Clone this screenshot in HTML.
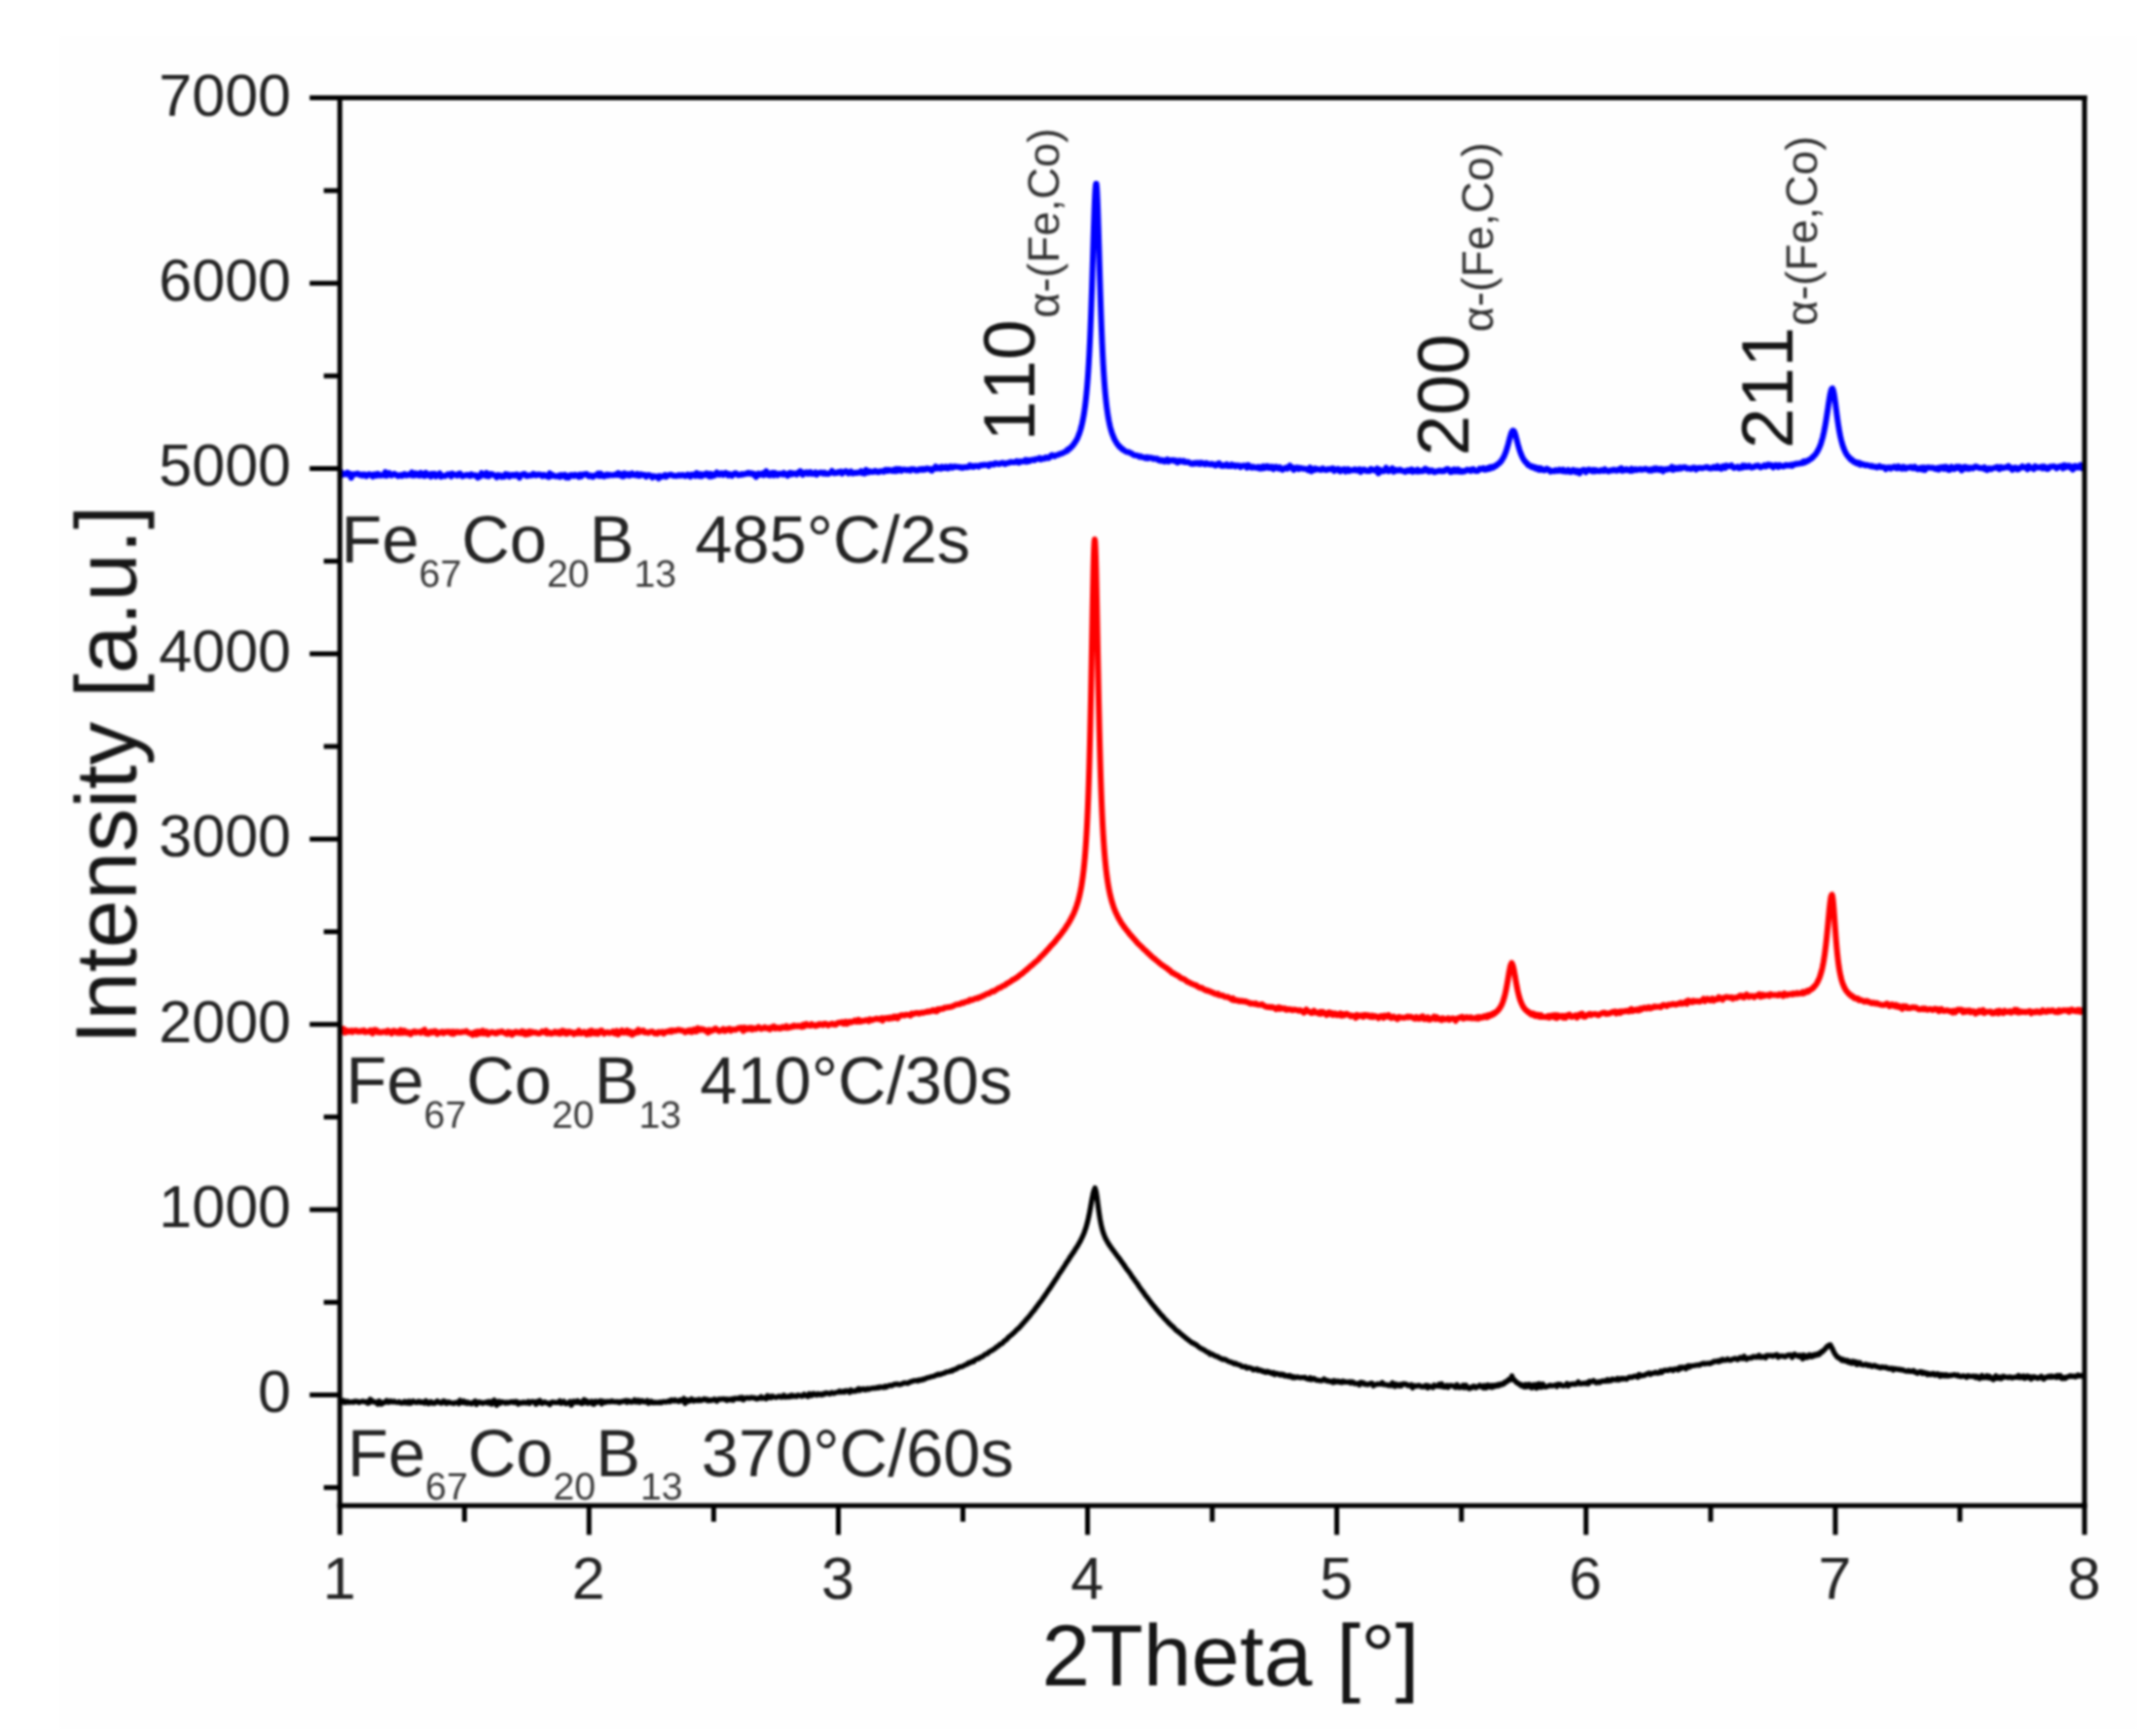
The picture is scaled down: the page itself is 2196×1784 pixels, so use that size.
<!DOCTYPE html>
<html lang="en">
<head>
<meta charset="utf-8">
<title>XRD patterns Fe67Co20B13</title>
<style>
html,body{margin:0;padding:0;background:#fff;}
body{width:2196px;height:1784px;overflow:hidden;}
svg{display:block;}
</style>
</head>
<body>
<svg width="2196" height="1784" viewBox="0 0 2196 1784">
<defs><filter id="soft" x="0" y="0" width="100%" height="100%" filterUnits="userSpaceOnUse" color-interpolation-filters="sRGB"><feGaussianBlur stdDeviation="1.15"/></filter></defs>
<rect x="0" y="0" width="2196" height="1784" fill="#ffffff"/>
<g filter="url(#soft)">
<rect x="61" y="37" width="2135" height="1740" fill="#fefefe"/>
<clipPath id="pc"><rect x="349.2" y="100.6" width="1792.8999999999999" height="1446.7"/></clipPath>
<g clip-path="url(#pc)" fill="none" stroke-linejoin="round" stroke-linecap="round">
<path d="M349.20 1440.78 L350.50 1441.27 L351.80 1440.80 L353.10 1439.19 L354.40 1441.40 L355.70 1440.96 L357.00 1439.99 L358.30 1441.12 L359.60 1440.92 L360.90 1440.86 L362.20 1440.61 L363.50 1441.14 L364.80 1439.88 L366.10 1440.46 L367.40 1440.16 L368.70 1441.25 L370.00 1440.70 L371.30 1440.38 L372.60 1439.91 L373.90 1440.45 L375.20 1440.72 L376.50 1440.45 L377.80 1442.04 L379.10 1441.76 L380.40 1438.05 L381.70 1438.88 L383.00 1440.62 L384.30 1440.38 L385.60 1441.03 L386.90 1441.05 L388.20 1442.97 L389.50 1439.73 L390.80 1440.48 L392.10 1442.93 L393.40 1441.54 L394.70 1441.56 L396.00 1440.39 L397.30 1439.26 L398.60 1441.10 L399.90 1441.05 L401.20 1439.71 L402.50 1440.27 L403.80 1440.90 L405.10 1440.03 L406.40 1440.89 L407.70 1441.10 L409.00 1441.05 L410.30 1440.51 L411.60 1441.63 L412.90 1441.95 L414.20 1441.38 L415.50 1440.23 L416.80 1441.81 L418.10 1440.57 L419.40 1441.98 L420.70 1440.01 L422.00 1442.04 L423.30 1441.10 L424.60 1439.86 L425.90 1440.82 L427.20 1441.20 L428.50 1441.43 L429.80 1440.16 L431.10 1440.04 L432.40 1441.38 L433.70 1440.71 L435.00 1441.43 L436.30 1441.98 L437.60 1439.53 L438.90 1441.48 L440.20 1442.48 L441.50 1440.93 L442.80 1440.41 L444.10 1442.02 L445.40 1441.51 L446.70 1442.18 L448.00 1440.91 L449.30 1439.76 L450.60 1441.17 L451.90 1440.83 L453.20 1442.09 L454.50 1441.50 L455.80 1439.63 L457.10 1440.08 L458.40 1442.23 L459.70 1442.02 L461.00 1440.67 L462.30 1441.33 L463.60 1441.80 L464.90 1441.83 L466.20 1442.25 L467.50 1441.62 L468.80 1441.26 L470.10 1441.10 L471.40 1442.46 L472.70 1439.05 L474.00 1441.23 L475.30 1441.42 L476.60 1439.91 L477.90 1441.73 L479.20 1440.72 L480.50 1442.29 L481.80 1441.27 L483.10 1442.10 L484.40 1442.67 L485.70 1441.81 L487.00 1440.50 L488.30 1439.84 L489.60 1443.24 L490.90 1441.31 L492.20 1440.71 L493.50 1441.58 L494.80 1441.23 L496.10 1442.32 L497.40 1441.47 L498.70 1441.45 L500.00 1440.69 L501.30 1441.93 L502.60 1440.36 L503.90 1442.14 L505.20 1443.04 L506.50 1439.85 L507.80 1438.86 L509.10 1442.09 L510.40 1444.12 L511.70 1440.40 L513.00 1440.13 L514.30 1442.06 L515.60 1440.56 L516.90 1440.91 L518.20 1441.08 L519.50 1442.00 L520.80 1441.02 L522.10 1441.73 L523.40 1441.26 L524.70 1440.56 L526.00 1441.11 L527.30 1440.45 L528.60 1441.44 L529.90 1440.26 L531.20 1440.29 L532.50 1442.95 L533.80 1441.37 L535.10 1441.37 L536.40 1441.96 L537.70 1440.98 L539.00 1441.18 L540.30 1441.86 L541.60 1441.71 L542.90 1440.21 L544.20 1442.27 L545.50 1440.79 L546.80 1440.31 L548.10 1440.46 L549.40 1440.99 L550.70 1443.07 L552.00 1440.17 L553.30 1441.54 L554.60 1439.17 L555.90 1441.37 L557.20 1442.29 L558.50 1441.11 L559.80 1440.70 L561.10 1441.58 L562.40 1442.06 L563.70 1442.01 L565.00 1443.35 L566.30 1441.54 L567.60 1440.71 L568.90 1441.18 L570.20 1441.23 L571.50 1441.41 L572.80 1441.26 L574.10 1441.46 L575.40 1439.57 L576.70 1442.11 L578.00 1440.67 L579.30 1440.05 L580.60 1441.89 L581.90 1442.57 L583.20 1441.72 L584.50 1441.38 L585.80 1440.26 L587.10 1444.10 L588.40 1442.08 L589.70 1440.02 L591.00 1440.38 L592.30 1441.24 L593.60 1439.58 L594.90 1441.30 L596.20 1440.66 L597.50 1442.35 L598.80 1442.07 L600.10 1438.36 L601.40 1441.12 L602.70 1439.44 L604.00 1442.17 L605.30 1441.21 L606.60 1441.58 L607.90 1439.95 L609.20 1442.83 L610.50 1443.01 L611.80 1439.91 L613.10 1441.34 L614.40 1440.28 L615.70 1440.91 L617.00 1439.66 L618.30 1442.76 L619.60 1439.93 L620.90 1440.58 L622.20 1441.36 L623.50 1440.21 L624.80 1440.60 L626.10 1440.26 L627.40 1440.67 L628.70 1439.63 L630.00 1440.34 L631.30 1440.55 L632.60 1440.40 L633.90 1440.77 L635.20 1440.41 L636.50 1441.42 L637.80 1440.35 L639.10 1440.51 L640.40 1439.97 L641.70 1440.09 L643.00 1439.35 L644.30 1441.08 L645.60 1439.43 L646.90 1439.80 L648.20 1440.86 L649.50 1440.88 L650.80 1440.08 L652.10 1438.47 L653.40 1440.85 L654.70 1440.68 L656.00 1438.97 L657.30 1441.20 L658.60 1439.69 L659.90 1439.32 L661.20 1440.53 L662.50 1440.33 L663.80 1440.72 L665.10 1439.41 L666.40 1442.07 L667.70 1440.44 L669.00 1439.92 L670.30 1441.57 L671.60 1440.98 L672.90 1441.61 L674.20 1441.09 L675.50 1441.36 L676.80 1441.60 L678.10 1440.74 L679.40 1441.65 L680.70 1440.73 L682.00 1440.32 L683.30 1440.72 L684.60 1440.76 L685.90 1440.17 L687.20 1439.58 L688.50 1440.47 L689.80 1438.59 L691.10 1439.00 L692.40 1439.77 L693.70 1438.51 L695.00 1439.65 L696.30 1439.53 L697.60 1440.36 L698.90 1438.66 L700.20 1438.88 L701.50 1439.74 L702.80 1437.11 L704.10 1442.23 L705.40 1438.68 L706.70 1438.61 L708.00 1440.05 L709.30 1439.18 L710.60 1437.54 L711.90 1439.72 L713.20 1439.90 L714.50 1438.66 L715.80 1438.78 L717.10 1439.44 L718.40 1438.13 L719.70 1439.32 L721.00 1439.06 L722.30 1438.23 L723.60 1437.54 L724.90 1438.56 L726.20 1437.93 L727.50 1439.59 L728.80 1438.77 L730.10 1439.30 L731.40 1438.67 L732.70 1438.75 L734.00 1437.76 L735.30 1439.02 L736.60 1439.98 L737.90 1438.06 L739.20 1437.76 L740.50 1438.10 L741.80 1437.77 L743.10 1437.52 L744.40 1438.22 L745.70 1437.79 L747.00 1439.28 L748.30 1437.96 L749.60 1438.19 L750.90 1438.69 L752.20 1437.54 L753.50 1439.01 L754.80 1437.15 L756.10 1436.94 L757.40 1437.28 L758.70 1437.44 L760.00 1436.27 L761.30 1437.40 L762.60 1435.94 L763.90 1438.53 L765.20 1437.20 L766.50 1436.66 L767.80 1436.37 L769.10 1436.77 L770.40 1436.85 L771.70 1436.08 L773.00 1436.13 L774.30 1436.70 L775.60 1436.35 L776.90 1437.53 L778.20 1437.63 L779.50 1436.62 L780.80 1436.94 L782.10 1435.36 L783.40 1436.95 L784.70 1436.32 L786.00 1436.68 L787.30 1437.54 L788.60 1434.25 L789.90 1436.29 L791.20 1435.10 L792.50 1436.42 L793.80 1434.78 L795.10 1435.38 L796.40 1435.88 L797.70 1436.15 L799.00 1435.63 L800.30 1434.85 L801.60 1434.97 L802.90 1436.06 L804.20 1435.26 L805.50 1433.83 L806.80 1435.78 L808.10 1435.36 L809.40 1435.64 L810.70 1434.60 L812.00 1435.44 L813.30 1433.86 L814.60 1435.06 L815.90 1434.14 L817.20 1434.97 L818.50 1435.14 L819.80 1433.69 L821.10 1434.13 L822.40 1434.11 L823.70 1434.91 L825.00 1434.45 L826.30 1432.87 L827.60 1434.06 L828.90 1434.19 L830.20 1435.14 L831.50 1432.14 L832.80 1432.91 L834.10 1434.23 L835.40 1432.10 L836.70 1432.12 L838.00 1433.30 L839.30 1433.57 L840.60 1432.20 L841.90 1433.00 L843.20 1432.57 L844.50 1433.50 L845.80 1432.26 L847.10 1432.88 L848.40 1431.38 L849.70 1431.79 L851.00 1431.74 L852.30 1432.51 L853.60 1431.99 L854.90 1430.91 L856.20 1431.82 L857.50 1431.75 L858.80 1431.00 L860.10 1430.77 L861.40 1430.69 L862.70 1429.51 L864.00 1430.70 L865.30 1430.60 L866.60 1429.70 L867.90 1430.68 L869.20 1429.09 L870.50 1429.51 L871.80 1429.43 L873.10 1430.95 L874.40 1428.38 L875.70 1429.69 L877.00 1429.80 L878.30 1429.27 L879.60 1429.65 L880.90 1428.05 L882.20 1427.06 L883.50 1428.90 L884.80 1427.46 L886.10 1427.87 L887.40 1427.16 L888.70 1428.42 L890.00 1428.13 L891.30 1426.96 L892.60 1427.81 L893.90 1427.14 L895.20 1426.80 L896.50 1426.75 L897.80 1426.41 L899.10 1426.72 L900.40 1426.35 L901.70 1425.76 L903.00 1426.39 L904.30 1425.22 L905.60 1425.56 L906.90 1425.44 L908.20 1425.86 L909.50 1424.49 L910.80 1425.59 L912.10 1424.47 L913.40 1424.04 L914.70 1423.55 L916.00 1424.05 L917.30 1423.52 L918.60 1422.65 L919.90 1422.41 L921.20 1422.50 L922.50 1422.20 L923.80 1422.93 L925.10 1422.84 L926.40 1422.32 L927.70 1421.79 L929.00 1421.12 L930.30 1421.12 L931.60 1421.29 L932.90 1421.67 L934.20 1420.77 L935.50 1419.88 L936.80 1419.77 L938.10 1419.23 L939.40 1418.79 L940.70 1418.80 L942.00 1418.70 L943.30 1419.19 L944.60 1418.02 L945.90 1418.34 L947.20 1418.22 L948.50 1417.10 L949.80 1417.49 L951.10 1416.74 L952.40 1415.88 L953.70 1415.86 L955.00 1415.40 L956.30 1414.94 L957.60 1414.60 L958.90 1414.39 L960.20 1414.14 L961.50 1413.20 L962.80 1413.20 L964.10 1412.18 L965.40 1412.53 L966.70 1412.28 L968.00 1411.68 L969.30 1411.32 L970.60 1411.01 L971.90 1410.09 L973.20 1409.82 L974.50 1409.67 L975.80 1409.40 L977.10 1408.71 L978.40 1409.04 L979.70 1407.58 L981.00 1407.49 L982.30 1407.09 L983.60 1406.08 L984.90 1405.33 L986.20 1404.68 L987.50 1404.62 L988.80 1404.39 L990.10 1403.56 L991.40 1402.96 L992.70 1402.21 L994.00 1401.92 L995.30 1400.47 L996.60 1400.61 L997.90 1399.93 L999.20 1398.87 L1000.50 1399.30 L1001.80 1397.58 L1003.10 1397.00 L1004.40 1396.29 L1005.70 1396.25 L1007.00 1394.98 L1008.30 1394.68 L1009.60 1393.92 L1010.90 1393.08 L1012.20 1391.89 L1013.50 1391.29 L1014.80 1391.07 L1016.10 1389.50 L1017.40 1388.79 L1018.70 1388.10 L1020.00 1387.46 L1021.30 1386.44 L1022.60 1385.65 L1023.90 1384.30 L1025.20 1383.81 L1026.50 1382.76 L1027.80 1381.31 L1029.10 1380.98 L1030.40 1380.10 L1031.70 1378.41 L1033.00 1377.51 L1034.30 1376.69 L1035.60 1375.01 L1036.90 1373.77 L1038.20 1372.75 L1039.50 1371.71 L1040.80 1370.50 L1042.10 1369.48 L1043.40 1368.16 L1044.70 1366.61 L1046.00 1365.62 L1047.30 1364.50 L1048.60 1363.02 L1049.90 1361.60 L1051.20 1360.02 L1052.50 1358.73 L1053.80 1356.96 L1055.10 1355.73 L1056.40 1354.08 L1057.70 1352.71 L1059.00 1351.03 L1060.30 1349.20 L1061.60 1347.74 L1062.90 1346.24 L1064.20 1344.23 L1065.50 1342.60 L1066.80 1340.83 L1068.10 1338.98 L1069.40 1337.52 L1070.70 1335.76 L1072.00 1333.86 L1073.30 1331.93 L1074.60 1330.02 L1075.90 1328.17 L1077.20 1326.14 L1078.50 1324.41 L1079.80 1322.49 L1081.10 1320.52 L1082.40 1318.38 L1083.70 1316.48 L1085.00 1314.46 L1086.30 1312.71 L1087.60 1310.52 L1088.90 1308.28 L1090.20 1306.56 L1091.50 1304.74 L1092.80 1302.61 L1094.10 1300.65 L1095.40 1298.56 L1095.50 1298.16 L1095.85 1297.65 L1096.20 1297.19 L1096.55 1296.79 L1096.70 1296.62 L1096.90 1296.36 L1097.25 1295.71 L1097.60 1295.33 L1097.95 1294.65 L1098.00 1294.52 L1098.30 1294.26 L1098.65 1293.51 L1099.00 1292.76 L1099.30 1292.51 L1099.35 1292.58 L1099.70 1291.66 L1100.05 1291.46 L1100.40 1290.94 L1100.60 1290.50 L1100.75 1290.27 L1101.10 1289.86 L1101.45 1289.32 L1101.80 1289.01 L1101.90 1288.75 L1102.15 1288.13 L1102.50 1287.69 L1102.85 1287.34 L1103.20 1286.96 L1103.20 1286.77 L1103.55 1286.22 L1103.90 1285.87 L1104.25 1285.11 L1104.50 1284.68 L1104.60 1284.40 L1104.95 1283.96 L1105.30 1283.73 L1105.65 1282.75 L1105.80 1282.69 L1106.00 1282.20 L1106.35 1281.82 L1106.70 1281.35 L1107.05 1280.65 L1107.10 1280.68 L1107.40 1280.18 L1107.75 1279.57 L1108.10 1279.12 L1108.40 1278.51 L1108.45 1278.30 L1108.80 1277.66 L1109.15 1277.03 L1109.50 1276.55 L1109.70 1276.10 L1109.85 1276.15 L1110.20 1275.40 L1110.55 1274.53 L1110.90 1273.85 L1111.00 1273.85 L1111.25 1273.01 L1111.60 1272.44 L1111.95 1271.84 L1112.30 1270.92 L1112.30 1270.96 L1112.65 1270.20 L1113.00 1269.49 L1113.35 1268.62 L1113.60 1268.03 L1113.70 1267.80 L1114.05 1266.87 L1114.40 1266.02 L1114.75 1264.93 L1114.90 1264.46 L1115.10 1263.87 L1115.45 1262.84 L1115.80 1261.82 L1116.15 1260.78 L1116.20 1260.56 L1116.50 1259.49 L1116.85 1258.22 L1117.20 1256.94 L1117.50 1255.77 L1117.55 1255.57 L1117.90 1254.09 L1118.25 1252.63 L1118.60 1251.12 L1118.80 1250.06 L1118.95 1249.43 L1119.30 1247.64 L1119.65 1245.95 L1120.00 1244.08 L1120.10 1243.49 L1120.35 1242.22 L1120.70 1240.34 L1121.05 1238.31 L1121.40 1236.36 L1121.40 1236.32 L1121.75 1234.27 L1122.10 1232.42 L1122.45 1230.51 L1122.70 1229.18 L1122.80 1228.77 L1123.15 1227.10 L1123.50 1225.58 L1123.85 1224.39 L1124.00 1223.80 L1124.20 1223.35 L1124.55 1222.43 L1124.90 1222.17 L1125.25 1220.80 L1125.30 1222.70 L1125.60 1222.21 L1125.95 1223.13 L1126.30 1224.39 L1126.60 1225.95 L1126.65 1226.29 L1127.00 1228.36 L1127.35 1230.87 L1127.70 1233.55 L1127.90 1235.07 L1128.05 1236.25 L1128.40 1238.92 L1128.75 1241.61 L1129.10 1244.16 L1129.20 1244.86 L1129.45 1246.60 L1129.80 1248.97 L1130.15 1251.17 L1130.50 1253.23 L1130.50 1253.13 L1130.85 1255.10 L1131.20 1256.95 L1131.55 1258.65 L1131.80 1259.74 L1131.90 1260.15 L1132.25 1261.52 L1132.60 1263.09 L1132.95 1264.18 L1133.10 1264.85 L1133.30 1265.51 L1133.65 1266.53 L1134.00 1267.50 L1134.35 1268.52 L1134.40 1268.56 L1134.70 1269.45 L1135.05 1270.30 L1135.40 1271.17 L1135.70 1271.88 L1135.75 1272.06 L1136.10 1272.62 L1136.45 1273.47 L1136.80 1273.98 L1137.00 1274.35 L1137.15 1274.66 L1137.50 1275.26 L1137.85 1276.09 L1138.20 1276.68 L1138.30 1276.89 L1138.55 1277.16 L1138.90 1277.77 L1139.25 1278.22 L1139.60 1278.69 L1139.60 1278.89 L1139.95 1279.40 L1140.30 1279.75 L1140.65 1280.48 L1140.90 1280.55 L1141.00 1280.89 L1141.35 1281.34 L1141.70 1281.85 L1142.05 1282.27 L1142.20 1282.74 L1142.40 1282.97 L1142.75 1283.54 L1143.10 1283.88 L1143.45 1284.17 L1143.50 1284.36 L1143.80 1284.65 L1144.15 1285.35 L1144.50 1285.92 L1144.80 1286.21 L1144.85 1286.15 L1145.20 1286.65 L1145.55 1287.20 L1145.90 1287.44 L1146.10 1287.93 L1146.25 1288.13 L1146.60 1288.50 L1146.95 1288.98 L1147.30 1289.53 L1147.40 1289.53 L1147.65 1289.87 L1148.00 1290.55 L1148.35 1290.95 L1148.70 1291.62 L1148.70 1291.25 L1149.05 1291.62 L1149.40 1292.46 L1149.75 1292.93 L1150.00 1293.04 L1150.10 1293.08 L1150.45 1293.74 L1150.80 1293.99 L1151.15 1294.66 L1151.30 1294.61 L1151.50 1295.15 L1151.85 1295.37 L1152.20 1296.10 L1152.55 1296.82 L1152.60 1296.65 L1152.90 1297.20 L1153.25 1297.49 L1153.60 1297.94 L1153.90 1298.28 L1153.95 1298.69 L1154.30 1299.03 L1154.65 1299.73 L1155.00 1299.85 L1155.20 1300.26 L1155.35 1300.50 L1156.50 1302.29 L1157.80 1304.17 L1159.10 1305.69 L1160.40 1307.48 L1161.70 1309.25 L1163.00 1311.51 L1164.30 1313.18 L1165.60 1314.96 L1166.90 1316.89 L1168.20 1318.41 L1169.50 1320.35 L1170.80 1322.53 L1172.10 1324.28 L1173.40 1326.05 L1174.70 1327.69 L1176.00 1329.67 L1177.30 1331.59 L1178.60 1332.92 L1179.90 1334.81 L1181.20 1336.44 L1182.50 1338.23 L1183.80 1339.84 L1185.10 1341.44 L1186.40 1342.94 L1187.70 1344.65 L1189.00 1346.12 L1190.30 1347.72 L1191.60 1349.25 L1192.90 1350.84 L1194.20 1352.10 L1195.50 1353.58 L1196.80 1355.21 L1198.10 1356.38 L1199.40 1357.73 L1200.70 1359.25 L1202.00 1360.46 L1203.30 1361.71 L1204.60 1362.99 L1205.90 1363.95 L1207.20 1365.47 L1208.50 1366.82 L1209.80 1367.84 L1211.10 1368.55 L1212.40 1370.03 L1213.70 1370.87 L1215.00 1372.08 L1216.30 1373.20 L1217.60 1373.94 L1218.90 1375.48 L1220.20 1376.16 L1221.50 1377.31 L1222.80 1378.22 L1224.10 1379.31 L1225.40 1380.17 L1226.70 1380.42 L1228.00 1381.65 L1229.30 1381.95 L1230.60 1383.19 L1231.90 1384.30 L1233.20 1385.15 L1234.50 1386.02 L1235.80 1386.34 L1237.10 1387.27 L1238.40 1387.94 L1239.70 1388.98 L1241.00 1389.77 L1242.30 1389.89 L1243.60 1391.79 L1244.90 1391.32 L1246.20 1391.85 L1247.50 1392.77 L1248.80 1393.44 L1250.10 1393.97 L1251.40 1394.17 L1252.70 1395.45 L1254.00 1395.54 L1255.30 1396.60 L1256.60 1397.10 L1257.90 1396.71 L1259.20 1397.32 L1260.50 1397.82 L1261.80 1398.77 L1263.10 1399.18 L1264.40 1399.74 L1265.70 1399.80 L1267.00 1400.73 L1268.30 1401.56 L1269.60 1400.94 L1270.90 1401.82 L1272.20 1402.42 L1273.50 1402.68 L1274.80 1403.06 L1276.10 1404.28 L1277.40 1404.47 L1278.70 1404.68 L1280.00 1404.36 L1281.30 1406.04 L1282.60 1405.58 L1283.90 1405.52 L1285.20 1405.98 L1286.50 1406.25 L1287.80 1407.78 L1289.10 1407.23 L1290.40 1407.49 L1291.70 1406.75 L1293.00 1408.44 L1294.30 1407.88 L1295.60 1408.14 L1296.90 1409.29 L1298.20 1408.84 L1299.50 1409.98 L1300.80 1410.41 L1302.10 1409.19 L1303.40 1410.30 L1304.70 1409.81 L1306.00 1410.87 L1307.30 1411.64 L1308.60 1410.67 L1309.90 1412.62 L1311.20 1411.72 L1312.50 1411.47 L1313.80 1412.29 L1315.10 1413.03 L1316.40 1412.03 L1317.70 1413.03 L1319.00 1412.46 L1320.30 1414.16 L1321.60 1413.76 L1322.90 1413.62 L1324.20 1414.69 L1325.50 1413.50 L1326.80 1414.23 L1328.10 1415.78 L1329.40 1414.77 L1330.70 1415.87 L1332.00 1415.34 L1333.30 1414.96 L1334.60 1415.42 L1335.90 1415.80 L1337.20 1415.66 L1338.50 1415.56 L1339.80 1415.75 L1341.10 1415.45 L1342.40 1416.65 L1343.70 1416.99 L1345.00 1417.38 L1346.30 1415.84 L1347.60 1417.73 L1348.90 1417.32 L1350.20 1416.52 L1351.50 1417.69 L1352.80 1418.32 L1354.10 1418.26 L1355.40 1418.54 L1356.70 1418.83 L1358.00 1418.93 L1359.30 1418.41 L1360.60 1417.10 L1361.90 1418.15 L1363.20 1419.07 L1364.50 1418.60 L1365.80 1419.55 L1367.10 1419.75 L1368.40 1419.33 L1369.70 1420.78 L1371.00 1418.81 L1372.30 1420.32 L1373.60 1419.39 L1374.90 1419.27 L1376.20 1420.40 L1377.50 1419.60 L1378.80 1420.81 L1380.10 1419.38 L1381.40 1420.39 L1382.70 1419.82 L1384.00 1420.38 L1385.30 1420.37 L1386.60 1419.88 L1387.90 1421.35 L1389.20 1419.97 L1390.50 1420.26 L1391.80 1421.81 L1393.10 1421.97 L1394.40 1421.82 L1395.70 1421.64 L1397.00 1423.27 L1398.30 1420.57 L1399.60 1421.02 L1400.90 1420.90 L1402.20 1422.51 L1403.50 1422.09 L1404.80 1422.84 L1406.10 1422.80 L1407.40 1421.90 L1408.70 1421.48 L1410.00 1421.41 L1411.30 1424.13 L1412.60 1423.17 L1413.90 1422.93 L1415.20 1422.22 L1416.50 1422.41 L1417.80 1422.35 L1419.10 1422.43 L1420.40 1420.74 L1421.70 1422.78 L1423.00 1422.57 L1424.30 1423.20 L1425.60 1423.19 L1426.90 1423.80 L1428.20 1423.12 L1429.50 1423.87 L1430.80 1421.03 L1432.10 1422.34 L1433.40 1424.85 L1434.70 1422.34 L1436.00 1423.21 L1437.30 1424.13 L1438.60 1422.78 L1439.90 1424.25 L1441.20 1422.40 L1442.50 1422.01 L1443.80 1422.57 L1445.10 1422.33 L1446.40 1423.83 L1447.70 1423.61 L1449.00 1424.23 L1450.30 1423.05 L1451.60 1426.32 L1452.90 1423.98 L1454.20 1424.06 L1455.50 1424.56 L1456.80 1423.96 L1458.10 1423.65 L1459.40 1424.34 L1460.70 1425.15 L1462.00 1424.95 L1463.30 1425.24 L1464.60 1423.88 L1465.90 1423.72 L1467.20 1426.34 L1468.50 1424.29 L1469.80 1424.99 L1471.10 1425.27 L1472.40 1425.94 L1473.70 1423.36 L1475.00 1424.21 L1476.30 1424.28 L1477.60 1424.43 L1478.90 1422.44 L1480.20 1424.67 L1481.50 1422.01 L1482.80 1425.10 L1484.10 1425.36 L1485.40 1425.44 L1486.70 1423.71 L1488.00 1425.83 L1489.30 1424.07 L1490.60 1423.73 L1491.90 1423.99 L1493.20 1424.13 L1494.50 1425.16 L1495.80 1425.83 L1497.10 1422.91 L1498.40 1424.48 L1499.70 1425.95 L1501.00 1425.25 L1502.30 1425.58 L1503.60 1423.52 L1504.90 1426.05 L1506.20 1423.45 L1507.50 1425.28 L1508.80 1426.51 L1510.10 1427.03 L1511.40 1425.60 L1512.70 1425.97 L1514.00 1424.45 L1515.30 1424.57 L1516.60 1426.20 L1517.90 1425.02 L1519.20 1424.88 L1520.50 1423.63 L1521.80 1425.09 L1523.10 1425.51 L1524.30 1424.16 L1524.40 1424.42 L1524.65 1426.30 L1525.00 1425.02 L1525.35 1424.59 L1525.70 1423.93 L1525.70 1424.34 L1526.05 1424.60 L1526.40 1426.01 L1526.75 1424.26 L1527.00 1426.34 L1527.10 1423.98 L1527.45 1424.46 L1527.80 1425.47 L1528.15 1424.53 L1528.30 1424.03 L1528.50 1424.60 L1528.85 1425.07 L1529.20 1423.26 L1529.55 1424.46 L1529.60 1424.57 L1529.90 1424.31 L1530.25 1425.21 L1530.60 1424.14 L1530.90 1424.29 L1530.95 1424.60 L1531.30 1425.11 L1531.65 1424.35 L1532.00 1425.65 L1532.20 1423.80 L1532.35 1425.44 L1532.70 1423.80 L1533.05 1424.29 L1533.40 1424.64 L1533.50 1425.85 L1533.75 1424.99 L1534.10 1424.03 L1534.45 1425.18 L1534.80 1424.10 L1534.80 1423.70 L1535.15 1424.50 L1535.50 1424.22 L1535.85 1424.73 L1536.10 1423.74 L1536.20 1424.32 L1536.55 1424.42 L1536.90 1424.15 L1537.25 1423.91 L1537.40 1423.49 L1537.60 1424.40 L1537.95 1423.89 L1538.30 1424.03 L1538.65 1423.50 L1538.70 1423.69 L1539.00 1423.07 L1539.35 1423.60 L1539.70 1423.87 L1540.00 1423.46 L1540.05 1423.83 L1540.40 1423.47 L1540.75 1423.87 L1541.10 1423.06 L1541.30 1422.37 L1541.45 1423.24 L1541.80 1422.88 L1542.15 1422.44 L1542.50 1422.99 L1542.60 1422.80 L1542.85 1422.78 L1543.20 1422.36 L1543.55 1422.42 L1543.90 1422.29 L1543.90 1422.80 L1544.25 1421.84 L1544.60 1421.90 L1544.95 1421.85 L1545.20 1421.10 L1545.30 1421.09 L1545.65 1422.00 L1546.00 1420.71 L1546.35 1421.14 L1546.50 1420.68 L1546.70 1420.58 L1547.05 1420.06 L1547.40 1420.11 L1547.75 1420.27 L1547.80 1419.73 L1548.10 1419.97 L1548.45 1419.65 L1548.80 1419.76 L1549.10 1418.99 L1549.15 1419.33 L1549.50 1418.98 L1549.85 1418.45 L1550.20 1417.88 L1550.40 1418.43 L1550.55 1417.68 L1550.90 1417.62 L1551.25 1417.71 L1551.60 1417.57 L1551.70 1416.99 L1551.95 1417.07 L1552.30 1416.82 L1552.65 1417.20 L1553.00 1417.78 L1553.00 1415.83 L1553.35 1417.11 L1553.70 1413.96 L1554.05 1416.56 L1554.30 1416.19 L1554.40 1417.34 L1554.75 1416.88 L1555.10 1416.94 L1555.45 1417.32 L1555.60 1417.46 L1555.80 1417.80 L1556.15 1418.13 L1556.50 1418.65 L1556.85 1419.20 L1556.90 1419.12 L1557.20 1419.15 L1557.55 1419.46 L1557.90 1419.97 L1558.20 1420.58 L1558.25 1420.38 L1558.60 1420.63 L1558.95 1421.09 L1559.30 1421.03 L1559.50 1421.22 L1559.65 1421.71 L1560.00 1421.75 L1560.35 1421.92 L1560.70 1422.32 L1560.80 1422.11 L1561.05 1422.20 L1561.40 1422.43 L1561.75 1422.93 L1562.10 1422.88 L1562.10 1422.42 L1562.45 1422.87 L1562.80 1423.36 L1563.15 1424.01 L1563.40 1422.76 L1563.50 1423.45 L1563.85 1423.26 L1564.20 1423.88 L1564.55 1423.78 L1564.70 1424.35 L1564.90 1423.89 L1565.25 1423.36 L1565.60 1423.41 L1565.95 1424.03 L1566.00 1424.03 L1566.30 1425.35 L1566.65 1424.97 L1567.00 1423.12 L1567.30 1424.18 L1567.35 1423.02 L1567.70 1422.79 L1568.05 1424.56 L1568.40 1424.46 L1568.60 1423.26 L1568.75 1425.34 L1569.10 1423.32 L1569.45 1423.17 L1569.80 1424.67 L1569.90 1424.32 L1570.15 1424.02 L1570.50 1424.11 L1570.85 1424.38 L1571.20 1424.07 L1571.20 1424.04 L1571.55 1422.49 L1571.90 1422.99 L1572.25 1424.80 L1572.50 1423.57 L1572.60 1424.75 L1572.95 1425.42 L1573.30 1423.91 L1573.65 1424.53 L1573.80 1426.30 L1574.00 1424.95 L1574.35 1426.11 L1574.70 1425.82 L1575.05 1425.04 L1575.10 1424.15 L1575.40 1423.40 L1575.75 1423.11 L1576.10 1424.78 L1576.40 1424.76 L1576.45 1424.09 L1576.80 1425.14 L1577.15 1423.65 L1577.50 1425.39 L1577.70 1424.30 L1577.85 1424.22 L1578.20 1424.26 L1578.55 1424.16 L1578.90 1426.70 L1579.00 1422.66 L1579.25 1424.42 L1579.60 1425.45 L1579.95 1424.93 L1580.30 1423.95 L1580.30 1425.81 L1580.65 1423.20 L1581.00 1422.97 L1581.35 1424.75 L1581.60 1422.82 L1581.70 1421.95 L1582.05 1425.02 L1582.40 1424.90 L1582.75 1424.86 L1582.90 1423.72 L1583.10 1424.34 L1583.45 1423.26 L1583.80 1425.75 L1584.15 1424.87 L1584.20 1424.82 L1585.50 1422.33 L1586.80 1424.78 L1588.10 1425.34 L1589.40 1425.03 L1590.70 1424.60 L1592.00 1423.86 L1593.30 1423.51 L1594.60 1424.25 L1595.90 1424.00 L1597.20 1423.81 L1598.50 1423.29 L1599.80 1424.86 L1601.10 1422.45 L1602.40 1423.31 L1603.70 1422.78 L1605.00 1424.00 L1606.30 1424.23 L1607.60 1423.99 L1608.90 1423.52 L1610.20 1421.74 L1611.50 1424.36 L1612.80 1423.05 L1614.10 1422.47 L1615.40 1422.47 L1616.70 1422.10 L1618.00 1422.57 L1619.30 1422.38 L1620.60 1421.78 L1621.90 1420.04 L1623.20 1421.80 L1624.50 1422.06 L1625.80 1421.97 L1627.10 1421.36 L1628.40 1421.68 L1629.70 1421.96 L1631.00 1420.77 L1632.30 1422.00 L1633.60 1419.48 L1634.90 1419.84 L1636.20 1419.95 L1637.50 1418.77 L1638.80 1419.62 L1640.10 1421.00 L1641.40 1420.84 L1642.70 1419.93 L1644.00 1420.85 L1645.30 1419.72 L1646.60 1419.08 L1647.90 1419.40 L1649.20 1419.00 L1650.50 1419.40 L1651.80 1417.80 L1653.10 1419.23 L1654.40 1418.13 L1655.70 1418.79 L1657.00 1417.11 L1658.30 1417.64 L1659.60 1417.77 L1660.90 1418.10 L1662.20 1416.61 L1663.50 1418.19 L1664.80 1417.28 L1666.10 1416.48 L1667.40 1417.33 L1668.70 1416.47 L1670.00 1416.90 L1671.30 1417.39 L1672.60 1416.26 L1673.90 1415.29 L1675.20 1415.15 L1676.50 1415.53 L1677.80 1415.15 L1679.10 1414.29 L1680.40 1414.17 L1681.70 1414.72 L1683.00 1415.46 L1684.30 1412.41 L1685.60 1414.09 L1686.90 1413.34 L1688.20 1413.67 L1689.50 1413.49 L1690.80 1412.81 L1692.10 1411.98 L1693.40 1411.54 L1694.70 1411.05 L1696.00 1412.53 L1697.30 1411.50 L1698.60 1411.08 L1699.90 1410.99 L1701.20 1410.17 L1702.50 1410.83 L1703.80 1411.14 L1705.10 1410.79 L1706.40 1409.08 L1707.70 1410.43 L1709.00 1409.03 L1710.30 1408.17 L1711.60 1408.29 L1712.90 1408.18 L1714.20 1408.45 L1715.50 1407.65 L1716.80 1407.15 L1718.10 1407.57 L1719.40 1408.49 L1720.70 1406.83 L1722.00 1407.21 L1723.30 1406.75 L1724.60 1407.88 L1725.90 1405.19 L1727.20 1406.55 L1728.50 1405.02 L1729.80 1405.14 L1731.10 1405.16 L1732.40 1406.68 L1733.70 1404.31 L1735.00 1403.45 L1736.30 1404.93 L1737.60 1403.53 L1738.90 1403.61 L1740.20 1403.48 L1741.50 1403.31 L1742.80 1402.92 L1744.10 1402.92 L1745.40 1402.75 L1746.70 1402.77 L1748.00 1401.83 L1749.30 1401.42 L1750.60 1401.01 L1751.90 1401.71 L1753.20 1401.12 L1754.50 1401.23 L1755.80 1401.00 L1757.10 1401.44 L1758.40 1400.38 L1759.70 1400.47 L1761.00 1399.13 L1762.30 1398.99 L1763.60 1399.22 L1764.90 1398.49 L1766.20 1399.40 L1767.50 1398.00 L1768.80 1398.64 L1770.10 1396.92 L1771.40 1397.54 L1772.70 1397.82 L1774.00 1397.68 L1775.30 1396.54 L1776.60 1397.54 L1777.90 1397.91 L1779.20 1397.54 L1780.50 1396.54 L1781.80 1396.42 L1783.10 1395.86 L1784.40 1396.89 L1785.70 1397.28 L1787.00 1395.82 L1788.30 1394.88 L1789.60 1396.02 L1790.90 1396.24 L1792.20 1393.72 L1793.50 1395.58 L1794.80 1396.90 L1796.10 1395.83 L1797.40 1395.52 L1798.70 1395.30 L1800.00 1395.69 L1801.30 1394.09 L1802.60 1394.05 L1803.90 1394.91 L1805.20 1393.97 L1806.50 1394.63 L1807.80 1392.80 L1809.10 1394.87 L1810.40 1394.88 L1811.70 1394.15 L1813.00 1394.19 L1814.30 1395.38 L1815.60 1392.99 L1816.90 1393.08 L1818.20 1392.86 L1819.50 1393.40 L1820.80 1392.82 L1822.10 1393.75 L1823.40 1393.07 L1824.70 1392.27 L1826.00 1392.13 L1827.30 1394.80 L1828.60 1393.52 L1829.90 1393.35 L1831.20 1393.60 L1832.50 1393.48 L1833.80 1394.35 L1835.10 1394.15 L1836.40 1392.95 L1837.70 1392.72 L1839.00 1392.47 L1840.30 1392.31 L1841.60 1395.01 L1842.90 1392.68 L1844.20 1391.58 L1845.50 1392.77 L1846.80 1392.83 L1848.10 1393.98 L1849.40 1392.73 L1850.70 1394.20 L1851.80 1394.04 L1852.00 1394.93 L1852.15 1395.84 L1852.50 1396.51 L1852.85 1394.98 L1853.20 1392.48 L1853.30 1393.23 L1853.55 1393.87 L1853.90 1395.63 L1854.25 1394.27 L1854.60 1394.70 L1854.60 1393.45 L1854.95 1394.16 L1855.30 1394.26 L1855.65 1393.16 L1855.90 1394.28 L1856.00 1394.54 L1856.35 1393.42 L1856.70 1394.44 L1857.05 1394.96 L1857.20 1393.58 L1857.40 1393.52 L1857.75 1393.24 L1858.10 1392.97 L1858.45 1393.59 L1858.50 1393.13 L1858.80 1393.19 L1859.15 1392.82 L1859.50 1392.22 L1859.80 1392.67 L1859.85 1393.61 L1860.20 1392.47 L1860.55 1392.84 L1860.90 1394.42 L1861.10 1394.03 L1861.25 1392.76 L1861.60 1393.60 L1861.95 1392.73 L1862.30 1394.13 L1862.40 1392.73 L1862.65 1393.11 L1863.00 1393.83 L1863.35 1392.48 L1863.70 1393.63 L1863.70 1392.43 L1864.05 1392.96 L1864.40 1392.61 L1864.75 1392.64 L1865.00 1392.71 L1865.10 1392.58 L1865.45 1392.05 L1865.80 1392.84 L1866.15 1392.66 L1866.30 1392.86 L1866.50 1392.83 L1866.85 1391.59 L1867.20 1392.53 L1867.55 1392.39 L1867.60 1391.69 L1867.90 1392.15 L1868.25 1392.14 L1868.60 1391.31 L1868.90 1390.91 L1868.95 1391.22 L1869.30 1392.01 L1869.65 1391.06 L1870.00 1390.46 L1870.20 1390.62 L1870.35 1390.33 L1870.70 1390.29 L1871.05 1390.19 L1871.40 1389.33 L1871.50 1389.94 L1871.75 1389.99 L1872.10 1389.37 L1872.45 1389.06 L1872.80 1389.06 L1872.80 1388.59 L1873.15 1388.30 L1873.50 1387.96 L1873.85 1387.86 L1874.10 1387.71 L1874.20 1387.52 L1874.55 1387.28 L1874.90 1386.96 L1875.25 1386.52 L1875.40 1386.15 L1875.60 1386.02 L1875.95 1385.88 L1876.30 1385.13 L1876.65 1384.88 L1876.70 1384.80 L1877.00 1384.52 L1877.35 1384.01 L1877.70 1383.61 L1878.00 1384.10 L1878.05 1383.74 L1878.40 1383.12 L1878.75 1383.02 L1879.10 1383.03 L1879.30 1382.62 L1879.45 1382.91 L1879.80 1382.27 L1880.15 1382.24 L1880.50 1382.48 L1880.60 1382.32 L1880.85 1381.97 L1881.20 1382.93 L1881.55 1383.39 L1881.90 1383.96 L1881.90 1383.80 L1882.25 1384.59 L1882.60 1385.30 L1882.95 1385.89 L1883.20 1386.41 L1883.30 1386.86 L1883.65 1387.51 L1884.00 1388.44 L1884.35 1389.27 L1884.50 1389.31 L1884.70 1389.68 L1885.05 1390.40 L1885.40 1391.07 L1885.75 1391.42 L1885.80 1391.79 L1886.10 1392.21 L1886.45 1392.65 L1886.80 1392.92 L1887.10 1393.50 L1887.15 1393.55 L1887.50 1393.59 L1887.85 1394.52 L1888.20 1394.41 L1888.40 1394.71 L1888.55 1394.66 L1888.90 1395.13 L1889.25 1395.57 L1889.60 1395.36 L1889.70 1395.22 L1889.95 1395.67 L1890.30 1395.65 L1890.65 1395.99 L1891.00 1396.35 L1891.00 1396.37 L1891.35 1396.95 L1891.70 1396.42 L1892.05 1397.01 L1892.30 1396.84 L1892.40 1397.51 L1892.75 1398.07 L1893.10 1397.44 L1893.45 1398.08 L1893.60 1397.32 L1893.80 1396.99 L1894.15 1397.22 L1894.50 1397.21 L1894.85 1397.56 L1894.90 1397.86 L1895.20 1398.53 L1895.55 1398.46 L1895.90 1398.46 L1896.20 1398.16 L1896.25 1398.05 L1896.60 1398.47 L1896.95 1398.62 L1897.30 1398.76 L1897.50 1398.87 L1897.65 1398.68 L1898.00 1397.92 L1898.35 1398.38 L1898.70 1398.60 L1898.80 1399.83 L1899.05 1398.87 L1899.40 1399.49 L1899.75 1399.96 L1900.10 1399.48 L1900.10 1399.12 L1900.45 1399.24 L1900.80 1398.95 L1901.15 1399.70 L1901.40 1400.17 L1901.50 1399.91 L1901.85 1400.09 L1902.20 1400.13 L1902.55 1400.88 L1902.70 1399.53 L1902.90 1399.98 L1903.25 1400.34 L1903.60 1400.70 L1903.95 1398.81 L1904.00 1399.84 L1904.30 1400.06 L1904.65 1399.69 L1905.00 1400.77 L1905.30 1400.48 L1905.35 1400.16 L1905.70 1399.55 L1906.05 1399.78 L1906.40 1400.03 L1906.60 1400.85 L1906.75 1399.96 L1907.10 1399.56 L1907.45 1399.96 L1907.80 1400.49 L1907.90 1401.77 L1908.15 1402.27 L1908.50 1400.68 L1908.85 1401.54 L1909.20 1401.85 L1909.20 1401.78 L1909.55 1401.07 L1909.90 1400.46 L1910.25 1400.98 L1910.50 1400.25 L1910.60 1401.45 L1910.95 1401.81 L1911.30 1400.37 L1911.65 1401.47 L1911.80 1401.69 L1913.10 1402.45 L1914.40 1402.75 L1915.70 1402.64 L1917.00 1402.00 L1918.30 1402.40 L1919.60 1403.52 L1920.90 1402.68 L1922.20 1403.22 L1923.50 1404.36 L1924.80 1403.73 L1926.10 1403.06 L1927.40 1403.90 L1928.70 1404.65 L1930.00 1404.37 L1931.30 1405.37 L1932.60 1405.64 L1933.90 1404.70 L1935.20 1404.98 L1936.50 1405.42 L1937.80 1404.96 L1939.10 1406.10 L1940.40 1405.96 L1941.70 1406.73 L1943.00 1406.09 L1944.30 1406.11 L1945.60 1407.95 L1946.90 1406.48 L1948.20 1406.84 L1949.50 1406.94 L1950.80 1407.38 L1952.10 1407.18 L1953.40 1407.90 L1954.70 1407.67 L1956.00 1408.02 L1957.30 1408.69 L1958.60 1409.07 L1959.90 1409.10 L1961.20 1408.50 L1962.50 1409.39 L1963.80 1409.22 L1965.10 1409.39 L1966.40 1408.50 L1967.70 1410.22 L1969.00 1409.84 L1970.30 1411.22 L1971.60 1410.67 L1972.90 1409.65 L1974.20 1409.62 L1975.50 1411.46 L1976.80 1410.24 L1978.10 1411.44 L1979.40 1410.90 L1980.70 1412.70 L1982.00 1411.44 L1983.30 1412.57 L1984.60 1412.58 L1985.90 1411.45 L1987.20 1411.67 L1988.50 1413.09 L1989.80 1412.15 L1991.10 1411.64 L1992.40 1413.26 L1993.70 1414.38 L1995.00 1412.59 L1996.30 1413.76 L1997.60 1412.72 L1998.90 1413.96 L2000.20 1412.87 L2001.50 1414.16 L2002.80 1413.67 L2004.10 1413.21 L2005.40 1413.63 L2006.70 1413.11 L2008.00 1412.74 L2009.30 1412.88 L2010.60 1413.76 L2011.90 1413.04 L2013.20 1414.32 L2014.50 1414.48 L2015.80 1414.51 L2017.10 1413.79 L2018.40 1414.32 L2019.70 1414.32 L2021.00 1415.52 L2022.30 1413.80 L2023.60 1414.21 L2024.90 1414.40 L2026.20 1414.54 L2027.50 1414.07 L2028.80 1414.22 L2030.10 1415.72 L2031.40 1414.31 L2032.70 1415.74 L2034.00 1416.79 L2035.30 1416.17 L2036.60 1413.42 L2037.90 1415.81 L2039.20 1415.58 L2040.50 1415.68 L2041.80 1413.70 L2043.10 1415.95 L2044.40 1414.25 L2045.70 1416.53 L2047.00 1416.35 L2048.30 1417.80 L2049.60 1415.01 L2050.90 1413.93 L2052.20 1416.45 L2053.50 1416.30 L2054.80 1415.08 L2056.10 1416.83 L2057.40 1416.18 L2058.70 1414.21 L2060.00 1415.16 L2061.30 1415.07 L2062.60 1415.42 L2063.90 1415.74 L2065.20 1414.83 L2066.50 1415.35 L2067.80 1416.17 L2069.10 1415.48 L2070.40 1415.27 L2071.70 1415.24 L2073.00 1415.45 L2074.30 1413.57 L2075.60 1415.71 L2076.90 1414.49 L2078.20 1415.64 L2079.50 1414.03 L2080.80 1416.45 L2082.10 1415.74 L2083.40 1414.14 L2084.70 1415.72 L2086.00 1414.71 L2087.30 1417.24 L2088.60 1415.92 L2089.90 1414.63 L2091.20 1415.62 L2092.50 1415.35 L2093.80 1416.53 L2095.10 1415.69 L2096.40 1415.82 L2097.70 1414.22 L2099.00 1416.05 L2100.30 1417.27 L2101.60 1415.85 L2102.90 1415.17 L2104.20 1415.34 L2105.50 1414.25 L2106.80 1415.31 L2108.10 1414.06 L2109.40 1415.11 L2110.70 1414.68 L2112.00 1414.23 L2113.30 1415.53 L2114.60 1413.56 L2115.90 1414.88 L2117.20 1413.65 L2118.50 1416.55 L2119.80 1416.65 L2121.10 1415.57 L2122.40 1416.50 L2123.70 1415.26 L2125.00 1415.18 L2126.30 1414.25 L2127.60 1413.78 L2128.90 1414.68 L2130.20 1414.04 L2131.50 1414.09 L2132.80 1415.11 L2134.10 1414.29 L2135.40 1412.95 L2136.70 1414.13 L2138.00 1413.59 L2139.30 1413.98 L2140.60 1413.21 L2141.90 1415.25" stroke="#000000" stroke-width="5.3"/>
<path d="M349.20 1059.61 L350.50 1058.94 L351.80 1059.07 L353.10 1057.14 L354.40 1061.25 L355.70 1060.65 L357.00 1059.25 L358.30 1060.33 L359.60 1059.88 L360.90 1059.10 L362.20 1060.60 L363.50 1059.37 L364.80 1059.38 L366.10 1058.95 L367.40 1060.18 L368.70 1059.67 L370.00 1060.31 L371.30 1059.22 L372.60 1059.95 L373.90 1058.98 L375.20 1060.69 L376.50 1060.07 L377.80 1060.23 L379.10 1060.33 L380.40 1058.97 L381.70 1060.73 L383.00 1062.00 L384.30 1058.41 L385.60 1058.34 L386.90 1058.58 L388.20 1060.89 L389.50 1060.21 L390.80 1061.16 L392.10 1060.83 L393.40 1060.35 L394.70 1060.44 L396.00 1060.02 L397.30 1061.05 L398.60 1059.11 L399.90 1059.83 L401.20 1060.50 L402.50 1062.04 L403.80 1059.54 L405.10 1059.25 L406.40 1059.78 L407.70 1061.30 L409.00 1060.13 L410.30 1061.69 L411.60 1058.55 L412.90 1061.53 L414.20 1061.45 L415.50 1059.05 L416.80 1060.62 L418.10 1061.68 L419.40 1060.59 L420.70 1061.50 L422.00 1062.88 L423.30 1060.82 L424.60 1060.28 L425.90 1059.81 L427.20 1061.24 L428.50 1060.41 L429.80 1060.45 L431.10 1060.53 L432.40 1061.30 L433.70 1059.61 L435.00 1059.16 L436.30 1058.27 L437.60 1061.90 L438.90 1060.80 L440.20 1062.24 L441.50 1060.74 L442.80 1060.03 L444.10 1061.26 L445.40 1060.72 L446.70 1059.55 L448.00 1059.93 L449.30 1062.60 L450.60 1061.20 L451.90 1061.27 L453.20 1060.59 L454.50 1060.19 L455.80 1061.79 L457.10 1060.80 L458.40 1060.15 L459.70 1060.79 L461.00 1060.03 L462.30 1061.14 L463.60 1062.10 L464.90 1060.13 L466.20 1062.43 L467.50 1060.32 L468.80 1061.16 L470.10 1060.17 L471.40 1060.80 L472.70 1061.08 L474.00 1060.61 L475.30 1060.34 L476.60 1060.38 L477.90 1060.24 L479.20 1059.49 L480.50 1060.83 L481.80 1061.51 L483.10 1062.03 L484.40 1061.78 L485.70 1063.63 L487.00 1061.46 L488.30 1060.68 L489.60 1063.06 L490.90 1060.09 L492.20 1062.16 L493.50 1060.20 L494.80 1061.54 L496.10 1059.17 L497.40 1062.12 L498.70 1061.04 L500.00 1060.22 L501.30 1062.94 L502.60 1062.01 L503.90 1061.27 L505.20 1060.47 L506.50 1061.19 L507.80 1061.07 L509.10 1061.99 L510.40 1062.08 L511.70 1060.57 L513.00 1060.70 L514.30 1060.72 L515.60 1059.88 L516.90 1060.66 L518.20 1061.18 L519.50 1062.00 L520.80 1062.66 L522.10 1060.45 L523.40 1061.87 L524.70 1060.84 L526.00 1063.46 L527.30 1061.25 L528.60 1061.83 L529.90 1060.33 L531.20 1060.46 L532.50 1061.52 L533.80 1060.91 L535.10 1061.68 L536.40 1059.68 L537.70 1062.01 L539.00 1060.38 L540.30 1063.12 L541.60 1061.02 L542.90 1062.47 L544.20 1059.85 L545.50 1061.77 L546.80 1060.39 L548.10 1060.81 L549.40 1061.34 L550.70 1060.98 L552.00 1061.59 L553.30 1062.09 L554.60 1061.99 L555.90 1061.22 L557.20 1059.89 L558.50 1060.47 L559.80 1061.10 L561.10 1059.10 L562.40 1062.08 L563.70 1061.05 L565.00 1061.03 L566.30 1062.27 L567.60 1061.98 L568.90 1061.51 L570.20 1060.24 L571.50 1061.59 L572.80 1061.63 L574.10 1060.35 L575.40 1062.33 L576.70 1061.78 L578.00 1059.22 L579.30 1061.37 L580.60 1059.94 L581.90 1062.40 L583.20 1062.05 L584.50 1060.09 L585.80 1060.31 L587.10 1061.31 L588.40 1060.95 L589.70 1062.75 L591.00 1061.94 L592.30 1060.89 L593.60 1061.75 L594.90 1059.09 L596.20 1061.46 L597.50 1062.02 L598.80 1060.95 L600.10 1060.40 L601.40 1061.68 L602.70 1063.08 L604.00 1061.30 L605.30 1059.95 L606.60 1062.53 L607.90 1059.17 L609.20 1061.56 L610.50 1060.45 L611.80 1061.96 L613.10 1060.16 L614.40 1062.33 L615.70 1061.29 L617.00 1059.25 L618.30 1058.99 L619.60 1060.64 L620.90 1062.23 L622.20 1061.05 L623.50 1060.98 L624.80 1060.66 L626.10 1061.62 L627.40 1061.24 L628.70 1061.13 L630.00 1059.86 L631.30 1062.00 L632.60 1062.15 L633.90 1059.50 L635.20 1063.05 L636.50 1061.47 L637.80 1060.26 L639.10 1058.85 L640.40 1061.35 L641.70 1061.24 L643.00 1060.09 L644.30 1058.90 L645.60 1061.73 L646.90 1060.04 L648.20 1060.13 L649.50 1063.36 L650.80 1062.64 L652.10 1061.48 L653.40 1060.07 L654.70 1061.16 L656.00 1058.17 L657.30 1060.60 L658.60 1059.72 L659.90 1059.26 L661.20 1059.08 L662.50 1061.04 L663.80 1060.72 L665.10 1060.86 L666.40 1061.46 L667.70 1060.37 L669.00 1060.23 L670.30 1059.97 L671.60 1061.10 L672.90 1062.06 L674.20 1061.37 L675.50 1062.17 L676.80 1060.46 L678.10 1061.05 L679.40 1060.76 L680.70 1060.33 L682.00 1062.11 L683.30 1061.30 L684.60 1060.12 L685.90 1059.92 L687.20 1060.23 L688.50 1059.10 L689.80 1060.34 L691.10 1058.90 L692.40 1059.54 L693.70 1058.90 L695.00 1059.31 L696.30 1058.49 L697.60 1058.21 L698.90 1058.72 L700.20 1058.94 L701.50 1059.26 L702.80 1059.57 L704.10 1060.89 L705.40 1060.19 L706.70 1059.17 L708.00 1060.04 L709.30 1058.69 L710.60 1060.63 L711.90 1059.77 L713.20 1057.98 L714.50 1059.88 L715.80 1059.90 L717.10 1056.65 L718.40 1058.39 L719.70 1058.60 L721.00 1057.24 L722.30 1057.99 L723.60 1058.06 L724.90 1059.34 L726.20 1059.11 L727.50 1061.18 L728.80 1058.40 L730.10 1059.76 L731.40 1058.75 L732.70 1058.88 L734.00 1057.55 L735.30 1056.83 L736.60 1057.82 L737.90 1059.14 L739.20 1059.83 L740.50 1058.91 L741.80 1058.77 L743.10 1057.53 L744.40 1059.60 L745.70 1059.38 L747.00 1057.67 L748.30 1058.05 L749.60 1057.16 L750.90 1059.29 L752.20 1058.30 L753.50 1057.81 L754.80 1058.20 L756.10 1058.18 L757.40 1057.38 L758.70 1056.61 L760.00 1056.52 L761.30 1056.07 L762.60 1057.94 L763.90 1059.41 L765.20 1055.95 L766.50 1057.49 L767.80 1057.67 L769.10 1056.41 L770.40 1057.38 L771.70 1056.20 L773.00 1058.12 L774.30 1056.52 L775.60 1057.06 L776.90 1057.50 L778.20 1056.49 L779.50 1055.27 L780.80 1056.28 L782.10 1057.32 L783.40 1056.54 L784.70 1056.74 L786.00 1055.57 L787.30 1056.54 L788.60 1056.97 L789.90 1056.32 L791.20 1057.82 L792.50 1055.99 L793.80 1055.22 L795.10 1054.68 L796.40 1056.91 L797.70 1055.84 L799.00 1056.66 L800.30 1056.13 L801.60 1057.02 L802.90 1056.65 L804.20 1055.22 L805.50 1055.69 L806.80 1056.28 L808.10 1054.30 L809.40 1056.42 L810.70 1056.15 L812.00 1055.88 L813.30 1054.85 L814.60 1055.18 L815.90 1053.95 L817.20 1054.82 L818.50 1054.22 L819.80 1054.68 L821.10 1054.14 L822.40 1054.68 L823.70 1055.31 L825.00 1053.25 L826.30 1054.93 L827.60 1052.54 L828.90 1052.33 L830.20 1053.85 L831.50 1053.86 L832.80 1054.11 L834.10 1052.39 L835.40 1053.54 L836.70 1053.59 L838.00 1054.37 L839.30 1053.23 L840.60 1053.62 L841.90 1052.37 L843.20 1052.88 L844.50 1052.59 L845.80 1053.37 L847.10 1051.98 L848.40 1052.00 L849.70 1052.97 L851.00 1053.78 L852.30 1052.62 L853.60 1052.45 L854.90 1051.86 L856.20 1052.83 L857.50 1052.31 L858.80 1053.08 L860.10 1051.94 L861.40 1050.88 L862.70 1051.05 L864.00 1050.63 L865.30 1050.33 L866.60 1052.05 L867.90 1051.60 L869.20 1050.00 L870.50 1052.07 L871.80 1050.84 L873.10 1049.86 L874.40 1050.70 L875.70 1050.25 L877.00 1049.62 L878.30 1048.67 L879.60 1049.95 L880.90 1050.00 L882.20 1047.86 L883.50 1049.92 L884.80 1049.83 L886.10 1048.94 L887.40 1049.21 L888.70 1048.80 L890.00 1048.28 L891.30 1048.47 L892.60 1049.50 L893.90 1047.45 L895.20 1048.45 L896.50 1048.27 L897.80 1047.52 L899.10 1047.55 L900.40 1046.77 L901.70 1046.98 L903.00 1047.40 L904.30 1047.45 L905.60 1046.49 L906.90 1048.90 L908.20 1046.39 L909.50 1046.67 L910.80 1046.28 L912.10 1046.01 L913.40 1046.92 L914.70 1045.62 L916.00 1046.58 L917.30 1046.28 L918.60 1044.74 L919.90 1045.85 L921.20 1044.63 L922.50 1046.52 L923.80 1044.42 L925.10 1043.90 L926.40 1043.13 L927.70 1043.31 L929.00 1043.54 L930.30 1043.10 L931.60 1042.76 L932.90 1042.88 L934.20 1042.96 L935.50 1043.71 L936.80 1041.67 L938.10 1042.12 L939.40 1041.68 L940.70 1041.14 L942.00 1041.07 L943.30 1041.04 L944.60 1041.72 L945.90 1040.98 L947.20 1040.55 L948.50 1040.94 L949.80 1040.52 L951.10 1040.00 L952.40 1040.07 L953.70 1039.17 L955.00 1039.68 L956.30 1039.33 L957.60 1038.61 L958.90 1037.93 L960.20 1039.05 L961.50 1038.05 L962.80 1039.25 L964.10 1037.11 L965.40 1037.56 L966.70 1036.63 L968.00 1036.66 L969.30 1036.63 L970.60 1035.54 L971.90 1035.56 L973.20 1035.36 L974.50 1035.01 L975.80 1034.90 L977.10 1034.76 L978.40 1034.32 L979.70 1033.72 L981.00 1033.09 L982.30 1032.39 L983.60 1032.20 L984.90 1031.92 L986.20 1032.05 L987.50 1031.22 L988.80 1030.47 L990.10 1030.84 L991.40 1029.85 L992.70 1029.45 L994.00 1029.24 L995.30 1029.09 L996.60 1027.53 L997.90 1027.59 L999.20 1027.63 L1000.50 1026.96 L1001.80 1026.31 L1003.10 1025.95 L1004.40 1026.16 L1005.70 1024.99 L1007.00 1024.90 L1008.30 1024.40 L1009.60 1023.44 L1010.90 1023.21 L1012.20 1022.35 L1013.50 1021.74 L1014.80 1021.00 L1016.10 1021.07 L1017.40 1020.06 L1018.70 1019.41 L1020.00 1018.62 L1021.30 1018.88 L1022.60 1017.91 L1023.90 1016.99 L1025.20 1016.15 L1026.50 1015.23 L1027.80 1015.05 L1029.10 1014.34 L1030.40 1013.14 L1031.70 1013.10 L1033.00 1012.23 L1034.30 1011.00 L1035.60 1010.32 L1036.90 1009.55 L1038.20 1008.88 L1039.50 1007.96 L1040.80 1006.74 L1042.10 1006.62 L1043.40 1005.45 L1044.70 1004.76 L1046.00 1003.83 L1047.30 1002.55 L1048.60 1001.71 L1049.90 1000.81 L1051.20 999.81 L1052.50 998.59 L1053.80 997.46 L1055.10 996.53 L1056.40 995.28 L1057.70 994.23 L1059.00 992.83 L1060.30 992.10 L1061.60 990.72 L1062.90 989.63 L1064.20 988.53 L1065.50 987.37 L1066.80 986.41 L1068.10 984.84 L1069.40 983.27 L1070.70 982.23 L1072.00 980.78 L1073.30 979.60 L1074.60 978.05 L1075.90 976.66 L1077.20 975.28 L1078.50 973.83 L1079.80 972.19 L1081.10 970.90 L1082.40 969.50 L1083.70 968.16 L1085.00 966.38 L1086.30 964.79 L1087.60 963.32 L1088.90 961.67 L1090.20 960.14 L1091.50 958.27 L1092.80 956.42 L1094.10 954.77 L1095.40 952.89 L1095.50 952.49 L1095.85 952.05 L1096.20 951.29 L1096.55 950.92 L1096.70 950.62 L1096.90 950.39 L1097.25 949.81 L1097.60 949.29 L1097.95 948.73 L1098.00 948.71 L1098.30 948.19 L1098.65 947.51 L1099.00 946.84 L1099.30 946.60 L1099.35 946.53 L1099.70 945.71 L1100.05 945.19 L1100.40 944.34 L1100.60 943.97 L1100.75 943.82 L1101.10 943.32 L1101.45 942.40 L1101.80 941.72 L1101.90 941.75 L1102.15 940.92 L1102.50 940.42 L1102.85 939.66 L1103.20 938.83 L1103.20 938.86 L1103.55 938.28 L1103.90 937.15 L1104.25 936.39 L1104.50 935.78 L1104.60 935.50 L1104.95 934.56 L1105.30 933.86 L1105.65 932.81 L1105.80 932.25 L1106.00 931.76 L1106.35 930.81 L1106.70 929.75 L1107.05 928.53 L1107.10 928.45 L1107.40 927.49 L1107.75 926.30 L1108.10 925.04 L1108.40 923.81 L1108.45 923.81 L1108.80 922.35 L1109.15 920.99 L1109.50 919.52 L1109.70 918.49 L1109.85 917.75 L1110.20 916.17 L1110.55 914.36 L1110.90 912.48 L1111.00 911.91 L1111.25 910.58 L1111.60 908.41 L1111.95 906.15 L1112.30 903.81 L1112.30 903.79 L1112.65 901.30 L1113.00 898.58 L1113.35 895.68 L1113.60 893.54 L1113.70 892.60 L1114.05 889.31 L1114.40 885.75 L1114.75 881.88 L1114.90 880.13 L1115.10 877.74 L1115.45 873.27 L1115.80 868.41 L1116.15 863.15 L1116.20 862.36 L1116.50 857.45 L1116.85 851.25 L1117.20 844.48 L1117.50 838.21 L1117.55 837.13 L1117.90 829.09 L1118.25 820.34 L1118.60 810.79 L1118.80 804.94 L1118.95 800.35 L1119.30 788.99 L1119.65 776.63 L1120.00 763.20 L1120.10 759.15 L1120.35 748.66 L1120.70 733.05 L1121.05 716.34 L1121.40 698.65 L1121.40 698.66 L1121.75 680.14 L1122.10 661.09 L1122.45 641.86 L1122.70 628.27 L1122.80 622.94 L1123.15 604.97 L1123.50 588.66 L1123.85 574.76 L1124.00 569.74 L1124.20 564.06 L1124.55 557.15 L1124.90 554.34 L1125.25 556.17 L1125.30 556.74 L1125.60 561.87 L1125.95 571.21 L1126.30 583.70 L1126.60 596.44 L1126.65 598.69 L1127.00 615.50 L1127.35 633.44 L1127.70 651.93 L1127.90 662.54 L1128.05 670.46 L1128.40 688.64 L1128.75 706.18 L1129.10 722.91 L1129.20 727.51 L1129.45 738.67 L1129.80 753.43 L1130.15 767.15 L1130.50 779.88 L1130.50 779.88 L1130.85 791.61 L1131.20 802.44 L1131.55 812.40 L1131.80 819.00 L1131.90 821.56 L1132.25 829.97 L1132.60 837.72 L1132.95 844.83 L1133.10 847.73 L1133.30 851.41 L1133.65 857.45 L1134.00 863.03 L1134.35 868.17 L1134.40 868.87 L1134.70 872.92 L1135.05 877.35 L1135.40 881.43 L1135.70 884.73 L1135.75 885.27 L1136.10 888.80 L1136.45 892.12 L1136.80 895.24 L1137.00 896.79 L1137.15 898.05 L1137.50 900.74 L1137.85 903.27 L1138.20 905.62 L1138.30 906.31 L1138.55 907.89 L1138.90 909.98 L1139.25 911.99 L1139.60 913.85 L1139.60 913.78 L1139.95 915.70 L1140.30 917.33 L1140.65 918.90 L1140.90 920.05 L1141.00 920.44 L1141.35 921.81 L1141.70 923.35 L1142.05 924.53 L1142.20 925.16 L1142.40 925.89 L1142.75 927.17 L1143.10 928.32 L1143.45 929.37 L1143.50 929.46 L1143.80 930.40 L1144.15 931.53 L1144.50 932.57 L1144.80 933.30 L1144.85 933.35 L1145.20 934.39 L1145.55 935.18 L1145.90 936.03 L1146.10 936.52 L1146.25 936.95 L1146.60 937.73 L1146.95 938.58 L1147.30 939.37 L1147.40 939.51 L1147.65 939.78 L1148.00 940.56 L1148.35 941.44 L1148.70 942.10 L1148.70 942.32 L1149.05 942.77 L1149.40 943.41 L1149.75 944.17 L1150.00 944.63 L1150.10 944.67 L1150.45 945.36 L1150.80 945.78 L1151.15 946.39 L1151.30 946.88 L1151.50 946.91 L1151.85 947.75 L1152.20 948.28 L1152.55 948.84 L1152.60 948.93 L1152.90 949.35 L1153.25 949.55 L1153.60 950.21 L1153.90 950.70 L1153.95 950.96 L1154.30 951.21 L1154.65 951.77 L1155.00 952.30 L1155.20 952.80 L1155.35 952.65 L1156.50 954.22 L1157.80 956.19 L1159.10 957.43 L1160.40 959.38 L1161.70 960.81 L1163.00 962.13 L1164.30 963.78 L1165.60 965.13 L1166.90 966.73 L1168.20 968.15 L1169.50 969.70 L1170.80 970.78 L1172.10 972.12 L1173.40 973.29 L1174.70 974.67 L1176.00 976.12 L1177.30 976.81 L1178.60 978.51 L1179.90 979.49 L1181.20 980.79 L1182.50 982.00 L1183.80 983.25 L1185.10 984.27 L1186.40 985.25 L1187.70 986.49 L1189.00 987.51 L1190.30 988.53 L1191.60 989.66 L1192.90 990.83 L1194.20 991.68 L1195.50 992.68 L1196.80 993.34 L1198.10 994.55 L1199.40 995.10 L1200.70 996.62 L1202.00 997.15 L1203.30 998.57 L1204.60 999.86 L1205.90 999.91 L1207.20 1001.18 L1208.50 1001.78 L1209.80 1002.36 L1211.10 1003.08 L1212.40 1004.24 L1213.70 1005.23 L1215.00 1005.72 L1216.30 1005.95 L1217.60 1006.80 L1218.90 1007.75 L1220.20 1008.90 L1221.50 1009.28 L1222.80 1009.97 L1224.10 1010.90 L1225.40 1011.13 L1226.70 1011.80 L1228.00 1012.40 L1229.30 1012.51 L1230.60 1013.82 L1231.90 1014.39 L1233.20 1015.16 L1234.50 1015.01 L1235.80 1015.69 L1237.10 1016.83 L1238.40 1017.16 L1239.70 1018.05 L1241.00 1017.78 L1242.30 1018.66 L1243.60 1018.84 L1244.90 1019.69 L1246.20 1019.87 L1247.50 1020.72 L1248.80 1021.39 L1250.10 1021.69 L1251.40 1021.16 L1252.70 1022.67 L1254.00 1022.91 L1255.30 1022.72 L1256.60 1023.19 L1257.90 1023.96 L1259.20 1024.59 L1260.50 1024.55 L1261.80 1024.42 L1263.10 1025.61 L1264.40 1025.93 L1265.70 1027.30 L1267.00 1025.99 L1268.30 1028.06 L1269.60 1028.05 L1270.90 1027.73 L1272.20 1028.69 L1273.50 1028.28 L1274.80 1029.02 L1276.10 1028.51 L1277.40 1029.21 L1278.70 1028.97 L1280.00 1028.99 L1281.30 1029.92 L1282.60 1030.01 L1283.90 1030.91 L1285.20 1031.54 L1286.50 1031.07 L1287.80 1031.46 L1289.10 1031.79 L1290.40 1031.05 L1291.70 1032.34 L1293.00 1032.45 L1294.30 1032.66 L1295.60 1032.32 L1296.90 1032.06 L1298.20 1033.25 L1299.50 1033.80 L1300.80 1034.60 L1302.10 1034.71 L1303.40 1035.12 L1304.70 1034.71 L1306.00 1035.38 L1307.30 1034.79 L1308.60 1035.48 L1309.90 1035.87 L1311.20 1037.12 L1312.50 1035.85 L1313.80 1035.12 L1315.10 1036.92 L1316.40 1035.77 L1317.70 1036.41 L1319.00 1036.44 L1320.30 1036.23 L1321.60 1037.82 L1322.90 1037.52 L1324.20 1036.92 L1325.50 1037.52 L1326.80 1037.36 L1328.10 1038.20 L1329.40 1037.71 L1330.70 1037.61 L1332.00 1037.84 L1333.30 1038.13 L1334.60 1038.76 L1335.90 1038.09 L1337.20 1038.80 L1338.50 1039.30 L1339.80 1040.74 L1341.10 1039.87 L1342.40 1037.35 L1343.70 1039.19 L1345.00 1039.40 L1346.30 1040.04 L1347.60 1041.04 L1348.90 1040.59 L1350.20 1038.56 L1351.50 1040.53 L1352.80 1040.51 L1354.10 1040.85 L1355.40 1041.66 L1356.70 1040.00 L1358.00 1041.71 L1359.30 1039.81 L1360.60 1041.17 L1361.90 1041.52 L1363.20 1043.04 L1364.50 1040.93 L1365.80 1040.30 L1367.10 1042.18 L1368.40 1041.27 L1369.70 1043.05 L1371.00 1041.43 L1372.30 1041.40 L1373.60 1043.12 L1374.90 1042.33 L1376.20 1043.13 L1377.50 1041.35 L1378.80 1043.83 L1380.10 1042.18 L1381.40 1043.37 L1382.70 1042.03 L1384.00 1041.68 L1385.30 1042.79 L1386.60 1043.21 L1387.90 1044.41 L1389.20 1043.52 L1390.50 1043.90 L1391.80 1043.93 L1393.10 1045.99 L1394.40 1042.90 L1395.70 1044.66 L1397.00 1043.60 L1398.30 1044.01 L1399.60 1043.42 L1400.90 1044.89 L1402.20 1042.98 L1403.50 1043.00 L1404.80 1043.98 L1406.10 1043.27 L1407.40 1044.88 L1408.70 1045.13 L1410.00 1043.80 L1411.30 1045.15 L1412.60 1044.00 L1413.90 1044.59 L1415.20 1044.69 L1416.50 1046.34 L1417.80 1044.81 L1419.10 1044.09 L1420.40 1044.15 L1421.70 1046.02 L1423.00 1043.61 L1424.30 1044.70 L1425.60 1044.83 L1426.90 1043.09 L1428.20 1044.86 L1429.50 1046.20 L1430.80 1045.58 L1432.10 1044.64 L1433.40 1046.09 L1434.70 1045.99 L1436.00 1047.37 L1437.30 1044.97 L1438.60 1045.33 L1439.90 1045.76 L1441.20 1045.65 L1442.50 1045.89 L1443.80 1045.77 L1445.10 1045.28 L1446.40 1044.50 L1447.70 1045.48 L1449.00 1044.77 L1450.30 1045.11 L1451.60 1045.61 L1452.90 1046.61 L1454.20 1046.97 L1455.50 1045.26 L1456.80 1046.53 L1458.10 1047.03 L1459.40 1046.28 L1460.70 1044.82 L1462.00 1044.36 L1463.30 1047.15 L1464.60 1047.30 L1465.90 1046.73 L1467.20 1045.49 L1468.50 1047.90 L1469.80 1047.71 L1471.10 1046.52 L1472.40 1046.38 L1473.70 1044.72 L1475.00 1047.36 L1476.30 1045.08 L1477.60 1047.34 L1478.90 1047.41 L1480.20 1046.80 L1481.50 1048.29 L1482.80 1046.41 L1484.10 1047.34 L1485.40 1047.56 L1486.70 1047.01 L1488.00 1046.34 L1489.30 1048.05 L1490.60 1047.21 L1491.90 1046.57 L1493.20 1046.60 L1494.50 1046.90 L1495.80 1049.08 L1497.10 1046.86 L1498.40 1046.50 L1499.70 1045.68 L1501.00 1045.52 L1502.30 1044.86 L1503.60 1046.88 L1504.90 1046.65 L1506.20 1045.65 L1507.50 1045.21 L1508.80 1046.22 L1510.10 1046.00 L1511.40 1045.27 L1512.70 1046.58 L1514.00 1046.37 L1515.30 1046.14 L1516.60 1046.67 L1517.90 1045.50 L1519.20 1046.82 L1520.50 1045.04 L1521.80 1045.90 L1523.10 1045.79 L1524.30 1045.07 L1524.40 1045.41 L1524.65 1044.43 L1525.00 1044.26 L1525.35 1044.93 L1525.70 1044.60 L1525.70 1045.29 L1526.05 1044.93 L1526.40 1045.17 L1526.75 1044.94 L1527.00 1044.83 L1527.10 1044.75 L1527.45 1044.44 L1527.80 1044.32 L1528.15 1045.43 L1528.30 1043.60 L1528.50 1044.29 L1528.85 1044.74 L1529.20 1044.38 L1529.55 1044.71 L1529.60 1044.32 L1529.90 1043.46 L1530.25 1043.75 L1530.60 1043.22 L1530.90 1044.07 L1530.95 1044.23 L1531.30 1043.38 L1531.65 1043.62 L1532.00 1043.14 L1532.20 1042.70 L1532.35 1043.00 L1532.70 1042.47 L1533.05 1042.68 L1533.40 1042.77 L1533.50 1042.89 L1533.75 1042.94 L1534.10 1042.27 L1534.45 1042.26 L1534.80 1042.12 L1534.80 1042.16 L1535.15 1041.04 L1535.50 1041.39 L1535.85 1041.57 L1536.10 1040.94 L1536.20 1041.20 L1536.55 1041.09 L1536.90 1040.23 L1537.25 1040.34 L1537.40 1040.31 L1537.60 1040.09 L1537.95 1039.50 L1538.30 1039.54 L1538.65 1039.04 L1538.70 1039.23 L1539.00 1038.85 L1539.35 1038.32 L1539.70 1038.03 L1540.00 1037.54 L1540.05 1037.48 L1540.40 1036.91 L1540.75 1036.62 L1541.10 1036.24 L1541.30 1035.85 L1541.45 1035.60 L1541.80 1034.96 L1542.15 1034.36 L1542.50 1033.83 L1542.60 1033.42 L1542.85 1033.25 L1543.20 1032.31 L1543.55 1031.70 L1543.90 1030.76 L1543.90 1030.64 L1544.25 1029.81 L1544.60 1028.81 L1544.95 1027.78 L1545.20 1027.01 L1545.30 1026.61 L1545.65 1025.42 L1546.00 1024.17 L1546.35 1022.78 L1546.50 1022.23 L1546.70 1021.42 L1547.05 1019.90 L1547.40 1018.28 L1547.75 1016.55 L1547.80 1016.35 L1548.10 1014.69 L1548.45 1012.88 L1548.80 1010.93 L1549.10 1009.24 L1549.15 1008.94 L1549.50 1006.88 L1549.85 1004.76 L1550.20 1002.69 L1550.40 1001.44 L1550.55 1000.60 L1550.90 998.53 L1551.25 996.80 L1551.60 995.09 L1551.70 994.54 L1551.95 993.47 L1552.30 992.13 L1552.65 991.17 L1553.00 990.69 L1553.00 990.65 L1553.35 989.68 L1553.70 990.37 L1554.05 990.86 L1554.30 991.48 L1554.40 991.75 L1554.75 992.74 L1555.10 994.09 L1555.45 995.64 L1555.60 996.28 L1555.80 997.38 L1556.15 999.24 L1556.50 1001.23 L1556.85 1003.16 L1556.90 1003.54 L1557.20 1005.24 L1557.55 1007.30 L1557.90 1009.34 L1558.20 1010.91 L1558.25 1011.19 L1558.60 1013.16 L1558.95 1014.89 L1559.30 1016.62 L1559.50 1017.63 L1559.65 1018.29 L1560.00 1019.89 L1560.35 1021.34 L1560.70 1022.71 L1560.80 1023.14 L1561.05 1024.13 L1561.40 1025.22 L1561.75 1026.47 L1562.10 1027.52 L1562.10 1027.45 L1562.45 1028.48 L1562.80 1029.32 L1563.15 1030.22 L1563.40 1030.89 L1563.50 1031.09 L1563.85 1031.99 L1564.20 1032.47 L1564.55 1033.24 L1564.70 1033.48 L1564.90 1033.89 L1565.25 1034.64 L1565.60 1034.92 L1565.95 1035.70 L1566.00 1035.58 L1566.30 1036.04 L1566.65 1036.69 L1567.00 1036.94 L1567.30 1037.44 L1567.35 1037.41 L1567.70 1037.75 L1568.05 1038.08 L1568.40 1038.17 L1568.60 1038.53 L1568.75 1038.84 L1569.10 1039.16 L1569.45 1039.09 L1569.80 1039.90 L1569.90 1039.88 L1570.15 1039.64 L1570.50 1039.93 L1570.85 1040.54 L1571.20 1040.17 L1571.20 1040.44 L1571.55 1040.83 L1571.90 1041.00 L1572.25 1041.21 L1572.50 1041.47 L1572.60 1041.17 L1572.95 1041.42 L1573.30 1042.40 L1573.65 1041.42 L1573.80 1041.80 L1574.00 1042.07 L1574.35 1041.94 L1574.70 1042.75 L1575.05 1042.46 L1575.10 1042.74 L1575.40 1041.52 L1575.75 1043.14 L1576.10 1043.25 L1576.40 1042.54 L1576.45 1043.43 L1576.80 1043.09 L1577.15 1043.49 L1577.50 1044.00 L1577.70 1043.25 L1577.85 1042.76 L1578.20 1043.32 L1578.55 1042.76 L1578.90 1043.06 L1579.00 1043.10 L1579.25 1043.17 L1579.60 1044.24 L1579.95 1044.14 L1580.30 1043.26 L1580.30 1044.36 L1580.65 1042.84 L1581.00 1043.48 L1581.35 1043.83 L1581.60 1044.67 L1581.70 1044.41 L1582.05 1044.30 L1582.40 1044.89 L1582.75 1044.57 L1582.90 1045.02 L1583.10 1043.64 L1583.45 1043.07 L1583.80 1043.95 L1584.15 1044.84 L1584.20 1044.46 L1585.50 1045.05 L1586.80 1045.05 L1588.10 1045.00 L1589.40 1045.34 L1590.70 1044.06 L1592.00 1045.75 L1593.30 1043.80 L1594.60 1044.67 L1595.90 1043.33 L1597.20 1045.32 L1598.50 1043.21 L1599.80 1046.17 L1601.10 1043.45 L1602.40 1044.98 L1603.70 1044.57 L1605.00 1043.87 L1606.30 1045.75 L1607.60 1044.20 L1608.90 1045.82 L1610.20 1043.59 L1611.50 1043.74 L1612.80 1042.67 L1614.10 1044.76 L1615.40 1044.99 L1616.70 1044.34 L1618.00 1043.95 L1619.30 1043.27 L1620.60 1045.80 L1621.90 1044.43 L1623.20 1042.31 L1624.50 1043.43 L1625.80 1041.56 L1627.10 1044.69 L1628.40 1044.89 L1629.70 1044.39 L1631.00 1043.14 L1632.30 1042.63 L1633.60 1041.93 L1634.90 1043.25 L1636.20 1042.20 L1637.50 1042.36 L1638.80 1042.05 L1640.10 1042.17 L1641.40 1042.92 L1642.70 1043.35 L1644.00 1042.13 L1645.30 1041.91 L1646.60 1040.99 L1647.90 1040.78 L1649.20 1040.77 L1650.50 1041.98 L1651.80 1041.40 L1653.10 1041.75 L1654.40 1041.24 L1655.70 1040.54 L1657.00 1039.83 L1658.30 1040.27 L1659.60 1039.41 L1660.90 1041.55 L1662.20 1040.24 L1663.50 1039.67 L1664.80 1041.07 L1666.10 1039.35 L1667.40 1039.81 L1668.70 1039.17 L1670.00 1039.35 L1671.30 1038.72 L1672.60 1039.11 L1673.90 1039.54 L1675.20 1037.65 L1676.50 1036.87 L1677.80 1038.98 L1679.10 1038.06 L1680.40 1038.33 L1681.70 1037.42 L1683.00 1038.40 L1684.30 1038.40 L1685.60 1036.34 L1686.90 1037.32 L1688.20 1036.34 L1689.50 1035.53 L1690.80 1036.17 L1692.10 1036.53 L1693.40 1035.14 L1694.70 1035.01 L1696.00 1036.39 L1697.30 1035.46 L1698.60 1035.50 L1699.90 1034.36 L1701.20 1034.47 L1702.50 1034.76 L1703.80 1034.62 L1705.10 1034.40 L1706.40 1035.10 L1707.70 1034.04 L1709.00 1032.80 L1710.30 1033.02 L1711.60 1033.33 L1712.90 1033.96 L1714.20 1032.56 L1715.50 1032.56 L1716.80 1032.59 L1718.10 1031.98 L1719.40 1031.72 L1720.70 1031.90 L1722.00 1032.47 L1723.30 1031.97 L1724.60 1031.31 L1725.90 1031.55 L1727.20 1030.32 L1728.50 1031.56 L1729.80 1031.21 L1731.10 1030.76 L1732.40 1029.36 L1733.70 1031.49 L1735.00 1028.18 L1736.30 1029.22 L1737.60 1029.09 L1738.90 1029.94 L1740.20 1028.37 L1741.50 1029.31 L1742.80 1028.89 L1744.10 1028.63 L1745.40 1029.20 L1746.70 1029.41 L1748.00 1028.58 L1749.30 1027.98 L1750.60 1026.50 L1751.90 1028.81 L1753.20 1027.48 L1754.50 1026.29 L1755.80 1027.48 L1757.10 1028.19 L1758.40 1026.97 L1759.70 1026.13 L1761.00 1028.32 L1762.30 1027.05 L1763.60 1026.73 L1764.90 1027.06 L1766.20 1024.70 L1767.50 1026.03 L1768.80 1025.84 L1770.10 1027.43 L1771.40 1025.29 L1772.70 1025.17 L1774.00 1024.44 L1775.30 1024.73 L1776.60 1025.06 L1777.90 1025.29 L1779.20 1024.84 L1780.50 1026.38 L1781.80 1025.14 L1783.10 1025.15 L1784.40 1025.61 L1785.70 1024.95 L1787.00 1023.96 L1788.30 1023.06 L1789.60 1024.47 L1790.90 1023.43 L1792.20 1025.06 L1793.50 1023.30 L1794.80 1022.03 L1796.10 1023.80 L1797.40 1024.58 L1798.70 1023.44 L1800.00 1023.70 L1801.30 1023.60 L1802.60 1024.88 L1803.90 1023.60 L1805.20 1023.25 L1806.50 1022.68 L1807.80 1021.72 L1809.10 1024.35 L1810.40 1024.07 L1811.70 1022.15 L1813.00 1023.50 L1814.30 1023.20 L1815.60 1022.51 L1816.90 1022.53 L1818.20 1023.46 L1819.50 1021.62 L1820.80 1022.20 L1822.10 1022.57 L1823.40 1022.59 L1824.70 1022.36 L1826.00 1022.71 L1827.30 1022.95 L1828.60 1021.62 L1829.90 1022.46 L1831.20 1021.86 L1832.50 1023.62 L1833.80 1021.00 L1835.10 1021.97 L1836.40 1022.70 L1837.70 1021.80 L1839.00 1021.69 L1840.30 1021.45 L1841.60 1022.02 L1842.90 1020.82 L1844.20 1021.50 L1845.50 1021.36 L1846.80 1020.32 L1848.10 1021.26 L1849.40 1020.63 L1850.70 1020.83 L1851.80 1020.88 L1852.00 1020.57 L1852.15 1019.78 L1852.50 1020.44 L1852.85 1019.44 L1853.20 1019.76 L1853.30 1020.87 L1853.55 1020.03 L1853.90 1020.63 L1854.25 1019.76 L1854.60 1019.74 L1854.60 1019.26 L1854.95 1020.02 L1855.30 1019.44 L1855.65 1019.65 L1855.90 1019.48 L1856.00 1019.49 L1856.35 1019.28 L1856.70 1019.01 L1857.05 1018.89 L1857.20 1018.59 L1857.40 1018.02 L1857.75 1018.75 L1858.10 1019.10 L1858.45 1018.61 L1858.50 1018.97 L1858.80 1018.25 L1859.15 1017.64 L1859.50 1017.46 L1859.80 1017.77 L1859.85 1017.63 L1860.20 1017.29 L1860.55 1017.30 L1860.90 1016.67 L1861.10 1016.88 L1861.25 1016.58 L1861.60 1016.43 L1861.95 1016.39 L1862.30 1015.83 L1862.40 1016.06 L1862.65 1015.84 L1863.00 1015.12 L1863.35 1015.37 L1863.70 1014.38 L1863.70 1014.59 L1864.05 1014.37 L1864.40 1013.50 L1864.75 1013.64 L1865.00 1013.35 L1865.10 1013.04 L1865.45 1012.66 L1865.80 1012.18 L1866.15 1011.64 L1866.30 1011.58 L1866.50 1011.10 L1866.85 1010.59 L1867.20 1010.05 L1867.55 1009.49 L1867.60 1009.42 L1867.90 1008.60 L1868.25 1007.86 L1868.60 1007.30 L1868.90 1006.65 L1868.95 1006.44 L1869.30 1005.73 L1869.65 1004.87 L1870.00 1003.91 L1870.20 1003.44 L1870.35 1002.82 L1870.70 1001.83 L1871.05 1000.81 L1871.40 999.52 L1871.50 999.06 L1871.75 998.20 L1872.10 996.87 L1872.45 995.44 L1872.80 993.80 L1872.80 993.83 L1873.15 992.05 L1873.50 990.30 L1873.85 988.44 L1874.10 986.92 L1874.20 986.36 L1874.55 984.12 L1874.90 981.91 L1875.25 979.39 L1875.40 978.31 L1875.60 976.73 L1875.95 973.96 L1876.30 971.09 L1876.65 967.94 L1876.70 967.48 L1877.00 964.69 L1877.35 961.29 L1877.70 957.69 L1878.00 954.58 L1878.05 954.07 L1878.40 950.33 L1878.75 946.54 L1879.10 942.73 L1879.30 940.58 L1879.45 938.99 L1879.80 935.35 L1880.15 931.90 L1880.50 928.74 L1880.60 927.91 L1880.85 925.94 L1881.20 923.54 L1881.55 921.67 L1881.90 920.37 L1881.90 920.40 L1882.25 919.75 L1882.60 919.49 L1882.95 920.67 L1883.20 921.88 L1883.30 922.61 L1883.65 925.45 L1884.00 929.11 L1884.35 933.33 L1884.50 935.22 L1884.70 937.95 L1885.05 942.81 L1885.40 947.77 L1885.75 952.74 L1885.80 953.43 L1886.10 957.58 L1886.45 962.23 L1886.80 966.70 L1887.10 970.30 L1887.15 970.89 L1887.50 974.79 L1887.85 978.50 L1888.20 981.90 L1888.40 983.68 L1888.55 984.98 L1888.90 987.88 L1889.25 990.59 L1889.60 993.07 L1889.70 993.68 L1889.95 995.24 L1890.30 997.42 L1890.65 999.33 L1891.00 1001.12 L1891.00 1001.13 L1891.35 1002.70 L1891.70 1004.28 L1892.05 1005.66 L1892.30 1006.64 L1892.40 1007.05 L1892.75 1008.19 L1893.10 1009.26 L1893.45 1010.44 L1893.60 1010.83 L1893.80 1011.31 L1894.15 1012.09 L1894.50 1013.00 L1894.85 1013.88 L1894.90 1014.02 L1895.20 1014.56 L1895.55 1015.35 L1895.90 1015.89 L1896.20 1016.43 L1896.25 1016.63 L1896.60 1017.11 L1896.95 1017.70 L1897.30 1018.31 L1897.50 1018.63 L1897.65 1018.61 L1898.00 1019.11 L1898.35 1019.38 L1898.70 1019.79 L1898.80 1020.15 L1899.05 1020.30 L1899.40 1020.44 L1899.75 1021.20 L1900.10 1021.29 L1900.10 1021.39 L1900.45 1021.85 L1900.80 1022.16 L1901.15 1022.36 L1901.40 1022.15 L1901.50 1022.77 L1901.85 1022.79 L1902.20 1022.85 L1902.55 1022.90 L1902.70 1023.84 L1902.90 1023.70 L1903.25 1023.92 L1903.60 1024.27 L1903.95 1024.30 L1904.00 1023.96 L1904.30 1024.71 L1904.65 1025.00 L1905.00 1025.06 L1905.30 1025.52 L1905.35 1025.66 L1905.70 1025.03 L1906.05 1025.31 L1906.40 1025.89 L1906.60 1025.76 L1906.75 1025.84 L1907.10 1026.24 L1907.45 1026.33 L1907.80 1026.08 L1907.90 1026.31 L1908.15 1026.12 L1908.50 1026.44 L1908.85 1026.25 L1909.20 1026.06 L1909.20 1026.60 L1909.55 1026.69 L1909.90 1027.37 L1910.25 1027.76 L1910.50 1027.25 L1910.60 1027.46 L1910.95 1027.14 L1911.30 1027.13 L1911.65 1027.50 L1911.80 1027.55 L1913.10 1028.18 L1914.40 1028.47 L1915.70 1029.52 L1917.00 1028.97 L1918.30 1028.55 L1919.60 1029.71 L1920.90 1029.58 L1922.20 1030.29 L1923.50 1031.04 L1924.80 1030.31 L1926.10 1030.85 L1927.40 1031.41 L1928.70 1030.78 L1930.00 1031.66 L1931.30 1032.06 L1932.60 1032.43 L1933.90 1032.80 L1935.20 1032.66 L1936.50 1032.75 L1937.80 1031.82 L1939.10 1031.18 L1940.40 1032.42 L1941.70 1034.11 L1943.00 1033.45 L1944.30 1032.08 L1945.60 1033.42 L1946.90 1034.09 L1948.20 1032.79 L1949.50 1034.54 L1950.80 1033.55 L1952.10 1035.16 L1953.40 1034.63 L1954.70 1036.85 L1956.00 1033.98 L1957.30 1035.22 L1958.60 1034.15 L1959.90 1036.10 L1961.20 1035.52 L1962.50 1036.21 L1963.80 1035.76 L1965.10 1034.99 L1966.40 1035.48 L1967.70 1035.18 L1969.00 1035.43 L1970.30 1036.40 L1971.60 1037.20 L1972.90 1037.16 L1974.20 1037.02 L1975.50 1036.33 L1976.80 1037.24 L1978.10 1036.32 L1979.40 1037.22 L1980.70 1037.80 L1982.00 1037.12 L1983.30 1037.00 L1984.60 1037.12 L1985.90 1038.02 L1987.20 1037.40 L1988.50 1036.62 L1989.80 1037.49 L1991.10 1037.06 L1992.40 1039.18 L1993.70 1038.08 L1995.00 1036.97 L1996.30 1038.44 L1997.60 1038.89 L1998.90 1038.69 L2000.20 1038.15 L2001.50 1038.64 L2002.80 1038.82 L2004.10 1039.49 L2005.40 1039.03 L2006.70 1040.70 L2008.00 1038.66 L2009.30 1040.21 L2010.60 1038.98 L2011.90 1037.55 L2013.20 1038.06 L2014.50 1037.54 L2015.80 1037.67 L2017.10 1040.29 L2018.40 1038.69 L2019.70 1039.86 L2021.00 1038.56 L2022.30 1039.39 L2023.60 1038.49 L2024.90 1040.27 L2026.20 1039.29 L2027.50 1039.14 L2028.80 1039.44 L2030.10 1041.65 L2031.40 1040.08 L2032.70 1040.47 L2034.00 1038.54 L2035.30 1039.12 L2036.60 1040.05 L2037.90 1038.00 L2039.20 1041.10 L2040.50 1040.09 L2041.80 1039.83 L2043.10 1039.67 L2044.40 1039.65 L2045.70 1039.40 L2047.00 1041.30 L2048.30 1040.61 L2049.60 1041.18 L2050.90 1039.64 L2052.20 1039.06 L2053.50 1041.34 L2054.80 1038.72 L2056.10 1039.34 L2057.40 1040.71 L2058.70 1041.10 L2060.00 1038.60 L2061.30 1039.69 L2062.60 1040.00 L2063.90 1039.83 L2065.20 1039.08 L2066.50 1040.65 L2067.80 1039.42 L2069.10 1039.70 L2070.40 1037.66 L2071.70 1039.82 L2073.00 1037.97 L2074.30 1040.61 L2075.60 1040.39 L2076.90 1039.38 L2078.20 1040.03 L2079.50 1039.96 L2080.80 1039.69 L2082.10 1040.18 L2083.40 1039.68 L2084.70 1039.32 L2086.00 1038.99 L2087.30 1041.37 L2088.60 1039.91 L2089.90 1039.68 L2091.20 1040.37 L2092.50 1039.28 L2093.80 1039.27 L2095.10 1040.24 L2096.40 1040.56 L2097.70 1040.19 L2099.00 1038.13 L2100.30 1039.55 L2101.60 1039.45 L2102.90 1039.87 L2104.20 1038.58 L2105.50 1038.40 L2106.80 1039.24 L2108.10 1038.49 L2109.40 1038.30 L2110.70 1039.19 L2112.00 1040.07 L2113.30 1039.31 L2114.60 1040.17 L2115.90 1038.20 L2117.20 1039.72 L2118.50 1039.03 L2119.80 1038.20 L2121.10 1038.59 L2122.40 1038.15 L2123.70 1038.69 L2125.00 1038.17 L2126.30 1039.95 L2127.60 1038.45 L2128.90 1037.45 L2130.20 1038.51 L2131.50 1039.00 L2132.80 1038.32 L2134.10 1039.33 L2135.40 1037.71 L2136.70 1037.72 L2138.00 1039.88 L2139.30 1038.40 L2140.60 1038.83 L2141.90 1038.75" stroke="#ff0000" stroke-width="6.0"/>
<path d="M349.20 489.66 L350.50 485.00 L351.80 488.03 L353.10 487.03 L354.40 487.16 L355.70 487.41 L357.00 485.58 L358.30 487.41 L359.60 486.77 L360.90 491.04 L362.20 487.90 L363.50 487.32 L364.80 487.40 L366.10 487.01 L367.40 486.63 L368.70 487.31 L370.00 488.21 L371.30 487.48 L372.60 488.71 L373.90 487.54 L375.20 487.77 L376.50 489.33 L377.80 488.32 L379.10 487.26 L380.40 487.59 L381.70 488.34 L383.00 489.77 L384.30 487.53 L385.60 487.56 L386.90 488.84 L388.20 486.92 L389.50 487.54 L390.80 488.74 L392.10 488.44 L393.40 487.95 L394.70 488.55 L396.00 484.98 L397.30 488.92 L398.60 486.90 L399.90 486.19 L401.20 488.18 L402.50 488.62 L403.80 487.46 L405.10 486.82 L406.40 487.95 L407.70 487.88 L409.00 489.38 L410.30 488.71 L411.60 488.15 L412.90 489.10 L414.20 487.76 L415.50 487.03 L416.80 488.58 L418.10 488.58 L419.40 487.77 L420.70 487.20 L422.00 488.24 L423.30 485.46 L424.60 488.73 L425.90 488.53 L427.20 486.35 L428.50 488.10 L429.80 487.06 L431.10 488.83 L432.40 485.97 L433.70 487.12 L435.00 488.80 L436.30 489.26 L437.60 485.86 L438.90 487.57 L440.20 488.43 L441.50 487.47 L442.80 489.74 L444.10 486.89 L445.40 488.48 L446.70 487.04 L448.00 489.57 L449.30 488.11 L450.60 487.75 L451.90 486.37 L453.20 489.88 L454.50 488.93 L455.80 488.93 L457.10 489.33 L458.40 488.53 L459.70 487.52 L461.00 487.35 L462.30 487.36 L463.60 489.60 L464.90 486.69 L466.20 487.58 L467.50 487.87 L468.80 488.44 L470.10 488.81 L471.40 486.93 L472.70 486.44 L474.00 488.22 L475.30 489.48 L476.60 489.02 L477.90 488.46 L479.20 487.92 L480.50 488.55 L481.80 488.00 L483.10 489.10 L484.40 487.44 L485.70 488.40 L487.00 488.16 L488.30 488.84 L489.60 488.51 L490.90 490.92 L492.20 489.84 L493.50 489.84 L494.80 486.18 L496.10 487.94 L497.40 487.67 L498.70 488.86 L500.00 485.95 L501.30 489.53 L502.60 489.42 L503.90 486.97 L505.20 487.31 L506.50 487.49 L507.80 488.37 L509.10 489.00 L510.40 490.46 L511.70 488.13 L513.00 489.14 L514.30 488.51 L515.60 490.17 L516.90 489.12 L518.20 489.77 L519.50 487.24 L520.80 488.16 L522.10 487.51 L523.40 489.93 L524.70 489.05 L526.00 488.05 L527.30 487.90 L528.60 488.88 L529.90 487.65 L531.20 487.41 L532.50 488.88 L533.80 490.95 L535.10 488.13 L536.40 487.81 L537.70 487.17 L539.00 487.00 L540.30 488.94 L541.60 489.28 L542.90 488.40 L544.20 488.74 L545.50 488.52 L546.80 488.54 L548.10 486.81 L549.40 487.92 L550.70 488.52 L552.00 487.59 L553.30 487.91 L554.60 487.55 L555.90 488.06 L557.20 489.30 L558.50 487.99 L559.80 488.25 L561.10 489.26 L562.40 489.09 L563.70 490.19 L565.00 486.23 L566.30 489.31 L567.60 487.91 L568.90 488.56 L570.20 489.30 L571.50 489.55 L572.80 489.51 L574.10 488.58 L575.40 490.11 L576.70 488.12 L578.00 488.27 L579.30 489.26 L580.60 487.84 L581.90 490.68 L583.20 489.49 L584.50 490.70 L585.80 488.39 L587.10 488.01 L588.40 488.59 L589.70 489.18 L591.00 487.80 L592.30 488.81 L593.60 488.39 L594.90 490.10 L596.20 487.72 L597.50 489.50 L598.80 487.73 L600.10 487.40 L601.40 487.66 L602.70 487.16 L604.00 488.55 L605.30 489.48 L606.60 488.57 L607.90 489.05 L609.20 490.10 L610.50 488.68 L611.80 488.60 L613.10 488.10 L614.40 486.71 L615.70 489.18 L617.00 486.56 L618.30 489.06 L619.60 488.36 L620.90 489.55 L622.20 488.30 L623.50 487.52 L624.80 488.74 L626.10 487.78 L627.40 488.17 L628.70 488.40 L630.00 488.22 L631.30 488.16 L632.60 487.49 L633.90 488.15 L635.20 486.13 L636.50 488.18 L637.80 487.09 L639.10 489.49 L640.40 489.64 L641.70 486.31 L643.00 488.47 L644.30 488.19 L645.60 487.23 L646.90 488.86 L648.20 487.83 L649.50 486.47 L650.80 488.02 L652.10 488.14 L653.40 488.40 L654.70 487.02 L656.00 488.93 L657.30 489.04 L658.60 487.23 L659.90 487.75 L661.20 488.33 L662.50 488.00 L663.80 489.90 L665.10 488.81 L666.40 488.08 L667.70 488.39 L669.00 489.03 L670.30 490.77 L671.60 489.23 L672.90 489.57 L674.20 489.99 L675.50 489.54 L676.80 491.68 L678.10 489.09 L679.40 489.95 L680.70 489.39 L682.00 489.53 L683.30 488.20 L684.60 489.96 L685.90 488.56 L687.20 488.54 L688.50 487.70 L689.80 487.73 L691.10 488.71 L692.40 489.06 L693.70 488.84 L695.00 489.26 L696.30 488.79 L697.60 488.10 L698.90 488.89 L700.20 488.64 L701.50 487.93 L702.80 488.76 L704.10 489.32 L705.40 488.24 L706.70 487.64 L708.00 488.72 L709.30 489.90 L710.60 487.76 L711.90 487.87 L713.20 487.81 L714.50 489.17 L715.80 486.07 L717.10 488.29 L718.40 489.11 L719.70 487.08 L721.00 489.39 L722.30 488.41 L723.60 487.31 L724.90 488.06 L726.20 486.30 L727.50 487.26 L728.80 489.65 L730.10 486.91 L731.40 489.64 L732.70 487.70 L734.00 488.77 L735.30 487.80 L736.60 485.50 L737.90 487.16 L739.20 487.91 L740.50 486.55 L741.80 486.35 L743.10 488.04 L744.40 487.02 L745.70 485.96 L747.00 486.96 L748.30 488.48 L749.60 487.14 L750.90 488.52 L752.20 489.10 L753.50 487.60 L754.80 486.43 L756.10 486.24 L757.40 487.49 L758.70 488.38 L760.00 487.75 L761.30 488.01 L762.60 487.02 L763.90 487.74 L765.20 486.96 L766.50 487.09 L767.80 486.12 L769.10 485.82 L770.40 486.88 L771.70 486.25 L773.00 486.38 L774.30 487.96 L775.60 487.18 L776.90 490.13 L778.20 488.16 L779.50 486.61 L780.80 487.97 L782.10 487.54 L783.40 486.50 L784.70 488.23 L786.00 486.38 L787.30 484.13 L788.60 487.87 L789.90 486.47 L791.20 488.50 L792.50 486.40 L793.80 485.87 L795.10 488.50 L796.40 485.93 L797.70 487.15 L799.00 488.33 L800.30 487.02 L801.60 486.80 L802.90 486.96 L804.20 487.65 L805.50 486.04 L806.80 487.38 L808.10 487.32 L809.40 488.99 L810.70 486.40 L812.00 485.82 L813.30 487.38 L814.60 486.27 L815.90 486.90 L817.20 486.72 L818.50 487.69 L819.80 485.92 L821.10 486.43 L822.40 484.06 L823.70 485.62 L825.00 487.90 L826.30 485.76 L827.60 485.72 L828.90 485.20 L830.20 486.88 L831.50 486.47 L832.80 485.15 L834.10 486.87 L835.40 486.46 L836.70 486.89 L838.00 485.55 L839.30 487.76 L840.60 486.48 L841.90 485.95 L843.20 485.54 L844.50 485.77 L845.80 486.77 L847.10 485.68 L848.40 486.91 L849.70 486.41 L851.00 487.09 L852.30 486.56 L853.60 485.71 L854.90 483.96 L856.20 485.98 L857.50 486.39 L858.80 485.78 L860.10 486.11 L861.40 485.12 L862.70 485.17 L864.00 484.62 L865.30 486.70 L866.60 485.55 L867.90 484.92 L869.20 484.11 L870.50 485.15 L871.80 486.57 L873.10 485.64 L874.40 484.52 L875.70 486.43 L877.00 486.39 L878.30 485.94 L879.60 485.73 L880.90 486.01 L882.20 485.42 L883.50 485.58 L884.80 484.14 L886.10 486.15 L887.40 484.96 L888.70 486.52 L890.00 482.84 L891.30 485.25 L892.60 485.45 L893.90 484.22 L895.20 484.88 L896.50 485.10 L897.80 484.90 L899.10 483.86 L900.40 484.16 L901.70 485.14 L903.00 485.32 L904.30 484.23 L905.60 484.16 L906.90 484.21 L908.20 484.89 L909.50 483.01 L910.80 482.72 L912.10 483.94 L913.40 482.81 L914.70 483.21 L916.00 483.74 L917.30 484.03 L918.60 482.63 L919.90 484.19 L921.20 481.91 L922.50 483.85 L923.80 481.97 L925.10 482.18 L926.40 483.76 L927.70 482.80 L929.00 482.41 L930.30 482.65 L931.60 483.36 L932.90 482.86 L934.20 482.82 L935.50 483.67 L936.80 482.11 L938.10 482.25 L939.40 482.14 L940.70 483.50 L942.00 483.28 L943.30 483.46 L944.60 482.29 L945.90 482.12 L947.20 482.88 L948.50 481.78 L949.80 482.72 L951.10 482.56 L952.40 481.32 L953.70 481.75 L955.00 481.65 L956.30 483.09 L957.60 483.71 L958.90 481.44 L960.20 481.46 L961.50 479.53 L962.80 481.47 L964.10 481.21 L965.40 480.28 L966.70 481.69 L968.00 479.73 L969.30 480.73 L970.60 480.93 L971.90 479.74 L973.20 481.33 L974.50 481.40 L975.80 479.39 L977.10 479.29 L978.40 480.79 L979.70 480.20 L981.00 479.19 L982.30 479.82 L983.60 479.87 L984.90 479.76 L986.20 480.42 L987.50 479.98 L988.80 480.96 L990.10 480.56 L991.40 479.93 L992.70 480.14 L994.00 480.23 L995.30 479.66 L996.60 478.08 L997.90 479.57 L999.20 478.88 L1000.50 479.95 L1001.80 478.69 L1003.10 478.91 L1004.40 478.66 L1005.70 479.57 L1007.00 478.34 L1008.30 477.90 L1009.60 478.22 L1010.90 477.56 L1012.20 477.90 L1013.50 477.66 L1014.80 477.75 L1016.10 478.85 L1017.40 477.03 L1018.70 477.24 L1020.00 476.96 L1021.30 477.47 L1022.60 476.01 L1023.90 476.25 L1025.20 476.60 L1026.50 476.90 L1027.80 476.36 L1029.10 475.91 L1030.40 475.53 L1031.70 476.38 L1033.00 476.91 L1034.30 475.99 L1035.60 475.76 L1036.90 475.81 L1038.20 474.71 L1039.50 475.02 L1040.80 474.91 L1042.10 475.16 L1043.40 474.80 L1044.70 473.85 L1046.00 475.30 L1047.30 475.53 L1048.60 474.07 L1049.90 474.36 L1051.20 474.12 L1052.50 474.31 L1053.80 472.67 L1055.10 474.52 L1056.40 473.01 L1057.70 473.95 L1059.00 473.03 L1060.30 472.56 L1061.60 472.54 L1062.90 472.99 L1064.20 471.73 L1065.50 471.84 L1066.80 471.58 L1068.10 470.66 L1069.40 472.20 L1070.70 471.56 L1072.00 471.00 L1073.30 471.41 L1074.60 470.02 L1075.90 470.24 L1077.20 470.89 L1078.50 470.21 L1079.80 468.35 L1081.10 467.56 L1082.40 468.32 L1083.70 468.90 L1085.00 467.86 L1086.30 467.57 L1087.60 467.46 L1088.90 466.43 L1090.20 466.32 L1091.50 465.95 L1092.80 465.22 L1094.10 464.52 L1095.40 463.51 L1095.50 463.74 L1095.85 463.28 L1096.20 463.50 L1096.55 463.57 L1096.70 462.66 L1096.90 462.19 L1097.25 462.37 L1097.60 462.30 L1097.95 462.19 L1098.00 462.15 L1098.30 461.52 L1098.65 461.24 L1099.00 461.38 L1099.30 460.65 L1099.35 461.04 L1099.70 460.48 L1100.05 460.35 L1100.40 460.01 L1100.60 459.82 L1100.75 459.68 L1101.10 459.02 L1101.45 458.87 L1101.80 458.44 L1101.90 458.38 L1102.15 458.24 L1102.50 457.60 L1102.85 457.11 L1103.20 456.66 L1103.20 456.72 L1103.55 456.41 L1103.90 455.72 L1104.25 455.47 L1104.50 454.99 L1104.60 454.77 L1104.95 454.10 L1105.30 453.71 L1105.65 453.17 L1105.80 452.64 L1106.00 452.59 L1106.35 451.98 L1106.70 451.17 L1107.05 450.47 L1107.10 450.54 L1107.40 449.78 L1107.75 448.81 L1108.10 448.06 L1108.40 447.31 L1108.45 447.18 L1108.80 446.11 L1109.15 445.37 L1109.50 444.26 L1109.70 443.71 L1109.85 443.22 L1110.20 442.16 L1110.55 440.90 L1110.90 439.61 L1111.00 439.31 L1111.25 438.39 L1111.60 436.89 L1111.95 435.47 L1112.30 433.83 L1112.30 433.79 L1112.65 432.19 L1113.00 430.30 L1113.35 428.45 L1113.60 426.96 L1113.70 426.39 L1114.05 424.17 L1114.40 421.86 L1114.75 419.44 L1114.90 418.30 L1115.10 416.76 L1115.45 413.90 L1115.80 410.88 L1116.15 407.58 L1116.20 407.10 L1116.50 404.10 L1116.85 400.32 L1117.20 396.28 L1117.50 392.58 L1117.55 391.93 L1117.90 387.24 L1118.25 382.22 L1118.60 376.78 L1118.80 373.49 L1118.95 370.92 L1119.30 364.61 L1119.65 357.83 L1120.00 350.57 L1120.10 348.38 L1120.35 342.76 L1120.70 334.43 L1121.05 325.53 L1121.40 316.07 L1121.40 316.05 L1121.75 306.06 L1122.10 295.55 L1122.45 284.62 L1122.70 276.58 L1122.80 273.33 L1123.15 261.84 L1123.50 250.28 L1123.85 238.92 L1124.00 234.15 L1124.20 227.98 L1124.55 217.79 L1124.90 208.65 L1125.25 200.87 L1125.30 199.89 L1125.60 194.77 L1125.95 190.64 L1126.30 188.69 L1126.60 188.69 L1126.65 188.85 L1127.00 191.59 L1127.35 196.72 L1127.70 203.94 L1127.90 208.88 L1128.05 212.92 L1128.40 223.28 L1128.75 234.66 L1129.10 246.63 L1129.20 250.12 L1129.45 258.91 L1129.80 271.18 L1130.15 283.27 L1130.50 294.97 L1130.50 294.97 L1130.85 306.17 L1131.20 316.80 L1131.55 326.79 L1131.80 333.56 L1131.90 336.18 L1132.25 344.93 L1132.60 353.05 L1132.95 360.58 L1133.10 363.66 L1133.30 367.59 L1133.65 374.04 L1134.00 379.99 L1134.35 385.55 L1134.40 386.24 L1134.70 390.62 L1135.05 395.37 L1135.40 399.69 L1135.70 403.17 L1135.75 403.70 L1136.10 407.48 L1136.45 410.89 L1136.80 414.14 L1137.00 415.87 L1137.15 417.09 L1137.50 419.91 L1137.85 422.43 L1138.20 424.86 L1138.30 425.53 L1138.55 427.11 L1138.90 429.23 L1139.25 431.21 L1139.60 433.00 L1139.60 432.99 L1139.95 434.71 L1140.30 436.32 L1140.65 437.89 L1140.90 438.87 L1141.00 439.30 L1141.35 440.61 L1141.70 441.83 L1142.05 443.12 L1142.20 443.49 L1142.40 444.19 L1142.75 445.35 L1143.10 446.18 L1143.45 447.20 L1143.50 447.22 L1143.80 448.06 L1144.15 448.84 L1144.50 449.74 L1144.80 450.38 L1144.85 450.55 L1145.20 451.42 L1145.55 451.99 L1145.90 452.69 L1146.10 452.98 L1146.25 453.23 L1146.60 453.77 L1146.95 454.22 L1147.30 454.99 L1147.40 455.33 L1147.65 455.57 L1148.00 455.94 L1148.35 456.71 L1148.70 456.89 L1148.70 456.86 L1149.05 457.21 L1149.40 457.67 L1149.75 458.18 L1150.00 458.82 L1150.10 458.57 L1150.45 458.81 L1150.80 459.24 L1151.15 459.65 L1151.30 459.52 L1151.50 460.04 L1151.85 460.47 L1152.20 460.71 L1152.55 461.07 L1152.60 460.73 L1152.90 460.88 L1153.25 461.79 L1153.60 462.02 L1153.90 461.66 L1153.95 462.09 L1154.30 462.30 L1154.65 462.66 L1155.00 462.82 L1155.20 462.77 L1155.35 463.04 L1156.50 463.73 L1157.80 464.39 L1159.10 464.46 L1160.40 464.61 L1161.70 465.86 L1163.00 466.00 L1164.30 467.16 L1165.60 467.77 L1166.90 467.96 L1168.20 468.03 L1169.50 468.56 L1170.80 469.40 L1172.10 468.76 L1173.40 469.88 L1174.70 470.04 L1176.00 470.05 L1177.30 470.95 L1178.60 469.97 L1179.90 471.14 L1181.20 470.26 L1182.50 470.55 L1183.80 470.57 L1185.10 471.67 L1186.40 471.00 L1187.70 471.79 L1189.00 471.22 L1190.30 472.78 L1191.60 473.45 L1192.90 472.58 L1194.20 473.67 L1195.50 473.12 L1196.80 474.34 L1198.10 473.12 L1199.40 472.14 L1200.70 474.35 L1202.00 473.40 L1203.30 472.91 L1204.60 473.31 L1205.90 472.77 L1207.20 473.91 L1208.50 473.41 L1209.80 475.33 L1211.10 474.88 L1212.40 473.36 L1213.70 473.59 L1215.00 474.38 L1216.30 473.52 L1217.60 474.94 L1218.90 475.11 L1220.20 474.69 L1221.50 474.97 L1222.80 475.85 L1224.10 476.64 L1225.40 476.81 L1226.70 475.84 L1228.00 476.56 L1229.30 475.47 L1230.60 476.44 L1231.90 475.51 L1233.20 476.89 L1234.50 475.50 L1235.80 475.80 L1237.10 476.63 L1238.40 477.16 L1239.70 475.72 L1241.00 476.51 L1242.30 477.12 L1243.60 477.29 L1244.90 476.55 L1246.20 477.37 L1247.50 477.17 L1248.80 478.57 L1250.10 478.00 L1251.40 476.60 L1252.70 475.98 L1254.00 477.89 L1255.30 478.84 L1256.60 478.12 L1257.90 478.77 L1259.20 477.75 L1260.50 477.12 L1261.80 478.90 L1263.10 478.45 L1264.40 479.01 L1265.70 477.40 L1267.00 478.75 L1268.30 478.16 L1269.60 479.41 L1270.90 478.34 L1272.20 478.39 L1273.50 478.48 L1274.80 480.08 L1276.10 479.12 L1277.40 478.53 L1278.70 478.38 L1280.00 478.43 L1281.30 480.59 L1282.60 477.90 L1283.90 478.78 L1285.20 480.10 L1286.50 480.62 L1287.80 479.56 L1289.10 480.41 L1290.40 480.45 L1291.70 480.71 L1293.00 479.96 L1294.30 481.40 L1295.60 480.22 L1296.90 481.43 L1298.20 479.22 L1299.50 481.04 L1300.80 479.19 L1302.10 479.04 L1303.40 480.83 L1304.70 479.73 L1306.00 480.89 L1307.30 479.62 L1308.60 482.02 L1309.90 480.67 L1311.20 479.72 L1312.50 480.92 L1313.80 481.60 L1315.10 480.19 L1316.40 481.38 L1317.70 482.79 L1319.00 481.79 L1320.30 481.05 L1321.60 480.60 L1322.90 481.67 L1324.20 479.84 L1325.50 478.52 L1326.80 480.69 L1328.10 480.36 L1329.40 482.95 L1330.70 481.55 L1332.00 480.57 L1333.30 480.46 L1334.60 482.00 L1335.90 480.84 L1337.20 481.10 L1338.50 481.59 L1339.80 481.79 L1341.10 481.84 L1342.40 481.90 L1343.70 483.03 L1345.00 483.43 L1346.30 480.39 L1347.60 484.32 L1348.90 482.10 L1350.20 483.17 L1351.50 481.37 L1352.80 482.39 L1354.10 482.33 L1355.40 482.27 L1356.70 482.99 L1358.00 482.82 L1359.30 481.33 L1360.60 482.19 L1361.90 483.01 L1363.20 483.01 L1364.50 482.08 L1365.80 482.16 L1367.10 482.31 L1368.40 481.45 L1369.70 481.31 L1371.00 484.03 L1372.30 482.21 L1373.60 482.70 L1374.90 481.93 L1376.20 483.90 L1377.50 484.36 L1378.80 482.52 L1380.10 483.24 L1381.40 482.06 L1382.70 484.49 L1384.00 483.72 L1385.30 482.06 L1386.60 484.08 L1387.90 483.26 L1389.20 483.33 L1390.50 483.30 L1391.80 482.34 L1393.10 482.49 L1394.40 483.63 L1395.70 483.01 L1397.00 482.17 L1398.30 485.06 L1399.60 482.92 L1400.90 482.61 L1402.20 482.49 L1403.50 483.86 L1404.80 484.16 L1406.10 483.47 L1407.40 484.10 L1408.70 481.82 L1410.00 482.93 L1411.30 482.86 L1412.60 483.34 L1413.90 483.83 L1415.20 481.38 L1416.50 486.45 L1417.80 482.56 L1419.10 483.77 L1420.40 484.26 L1421.70 484.30 L1423.00 483.71 L1424.30 480.63 L1425.60 482.44 L1426.90 484.27 L1428.20 482.63 L1429.50 482.51 L1430.80 481.23 L1432.10 484.79 L1433.40 484.10 L1434.70 482.72 L1436.00 483.49 L1437.30 483.53 L1438.60 482.53 L1439.90 483.38 L1441.20 483.92 L1442.50 484.23 L1443.80 484.96 L1445.10 483.73 L1446.40 483.24 L1447.70 484.12 L1449.00 483.09 L1450.30 482.48 L1451.60 484.90 L1452.90 483.37 L1454.20 483.89 L1455.50 484.43 L1456.80 482.66 L1458.10 484.44 L1459.40 484.26 L1460.70 483.71 L1462.00 484.22 L1463.30 483.04 L1464.60 481.56 L1465.90 483.54 L1467.20 482.90 L1468.50 484.74 L1469.80 484.12 L1471.10 483.30 L1472.40 483.90 L1473.70 485.26 L1475.00 485.04 L1476.30 484.24 L1477.60 484.31 L1478.90 483.56 L1480.20 483.72 L1481.50 484.46 L1482.80 483.72 L1484.10 484.15 L1485.40 482.69 L1486.70 482.12 L1488.00 482.09 L1489.30 483.37 L1490.60 485.14 L1491.90 484.97 L1493.20 482.78 L1494.50 482.22 L1495.80 484.52 L1497.10 484.18 L1498.40 482.38 L1499.70 484.70 L1501.00 483.82 L1502.30 484.88 L1503.60 483.92 L1504.90 484.39 L1506.20 483.82 L1507.50 482.63 L1508.80 483.23 L1510.10 482.80 L1511.40 484.04 L1512.70 482.43 L1514.00 481.94 L1515.30 483.68 L1516.60 483.94 L1517.90 484.06 L1519.20 483.66 L1520.50 481.65 L1521.80 482.12 L1523.10 482.10 L1524.30 482.29 L1524.40 480.94 L1524.65 482.25 L1525.00 482.38 L1525.35 481.58 L1525.70 482.18 L1525.70 482.80 L1526.05 482.08 L1526.40 482.61 L1526.75 482.52 L1527.00 482.13 L1527.10 482.10 L1527.45 481.61 L1527.80 482.43 L1528.15 481.44 L1528.30 481.29 L1528.50 481.99 L1528.85 481.17 L1529.20 481.69 L1529.55 481.92 L1529.60 481.42 L1529.90 481.37 L1530.25 481.67 L1530.60 481.50 L1530.90 480.37 L1530.95 480.46 L1531.30 481.55 L1531.65 481.03 L1532.00 479.88 L1532.20 480.14 L1532.35 480.67 L1532.70 480.15 L1533.05 480.62 L1533.40 480.34 L1533.50 480.46 L1533.75 479.75 L1534.10 480.28 L1534.45 480.61 L1534.80 479.50 L1534.80 480.23 L1535.15 479.95 L1535.50 479.68 L1535.85 479.29 L1536.10 478.83 L1536.20 478.87 L1536.55 479.18 L1536.90 479.04 L1537.25 478.90 L1537.40 478.74 L1537.60 478.60 L1537.95 478.04 L1538.30 477.62 L1538.65 477.72 L1538.70 477.75 L1539.00 477.44 L1539.35 476.83 L1539.70 476.77 L1540.00 476.33 L1540.05 476.61 L1540.40 476.07 L1540.75 475.90 L1541.10 475.64 L1541.30 475.40 L1541.45 475.44 L1541.80 474.66 L1542.15 474.09 L1542.50 474.12 L1542.60 474.06 L1542.85 473.72 L1543.20 473.08 L1543.55 472.59 L1543.90 472.00 L1543.90 471.83 L1544.25 471.34 L1544.60 470.85 L1544.95 470.09 L1545.20 469.84 L1545.30 469.31 L1545.65 468.69 L1546.00 468.06 L1546.35 467.10 L1546.50 466.70 L1546.70 466.19 L1547.05 465.33 L1547.40 464.54 L1547.75 463.45 L1547.80 463.31 L1548.10 462.34 L1548.45 461.32 L1548.80 460.12 L1549.10 459.04 L1549.15 458.89 L1549.50 457.69 L1549.85 456.47 L1550.20 455.10 L1550.40 454.37 L1550.55 453.88 L1550.90 452.40 L1551.25 451.06 L1551.60 449.88 L1551.70 449.48 L1551.95 448.56 L1552.30 447.39 L1552.65 446.24 L1553.00 445.30 L1553.00 445.24 L1553.35 444.46 L1553.70 443.55 L1554.05 443.00 L1554.30 442.85 L1554.40 442.65 L1554.75 442.93 L1555.10 442.59 L1555.45 442.73 L1555.60 443.02 L1555.80 443.20 L1556.15 443.73 L1556.50 444.59 L1556.85 445.56 L1556.90 445.73 L1557.20 446.70 L1557.55 447.92 L1557.90 449.15 L1558.20 450.33 L1558.25 450.50 L1558.60 451.77 L1558.95 453.22 L1559.30 454.56 L1559.50 455.24 L1559.65 455.86 L1560.00 457.22 L1560.35 458.46 L1560.70 459.75 L1560.80 460.06 L1561.05 460.93 L1561.40 462.02 L1561.75 463.16 L1562.10 464.15 L1562.10 464.22 L1562.45 465.05 L1562.80 466.13 L1563.15 467.09 L1563.40 467.65 L1563.50 467.83 L1563.85 468.68 L1564.20 469.30 L1564.55 470.01 L1564.70 470.34 L1564.90 470.74 L1565.25 471.49 L1565.60 471.87 L1565.95 472.65 L1566.00 472.42 L1566.30 472.96 L1566.65 473.55 L1567.00 474.19 L1567.30 474.32 L1567.35 474.15 L1567.70 474.95 L1568.05 475.27 L1568.40 475.47 L1568.60 475.67 L1568.75 475.88 L1569.10 476.36 L1569.45 476.78 L1569.80 476.65 L1569.90 477.51 L1570.15 477.23 L1570.50 477.42 L1570.85 477.92 L1571.20 478.03 L1571.20 478.57 L1571.55 478.51 L1571.90 478.36 L1572.25 478.56 L1572.50 478.67 L1572.60 478.76 L1572.95 479.24 L1573.30 479.03 L1573.65 479.90 L1573.80 479.44 L1574.00 479.52 L1574.35 480.03 L1574.70 479.19 L1575.05 479.68 L1575.10 480.24 L1575.40 480.15 L1575.75 480.27 L1576.10 480.55 L1576.40 480.27 L1576.45 480.45 L1576.80 480.08 L1577.15 479.97 L1577.50 481.39 L1577.70 480.50 L1577.85 480.64 L1578.20 481.67 L1578.55 481.62 L1578.90 480.98 L1579.00 481.00 L1579.25 481.28 L1579.60 480.93 L1579.95 481.75 L1580.30 481.63 L1580.30 481.62 L1580.65 482.02 L1581.00 482.08 L1581.35 482.76 L1581.60 482.64 L1581.70 480.89 L1582.05 482.39 L1582.40 481.32 L1582.75 481.19 L1582.90 482.45 L1583.10 481.66 L1583.45 481.94 L1583.80 482.82 L1584.15 481.82 L1584.20 481.68 L1585.50 482.62 L1586.80 483.39 L1588.10 483.07 L1589.40 481.68 L1590.70 482.43 L1592.00 482.90 L1593.30 484.66 L1594.60 483.92 L1595.90 483.97 L1597.20 484.35 L1598.50 483.10 L1599.80 483.84 L1601.10 483.90 L1602.40 482.60 L1603.70 483.52 L1605.00 484.10 L1606.30 482.56 L1607.60 484.40 L1608.90 484.38 L1610.20 484.68 L1611.50 482.90 L1612.80 483.80 L1614.10 485.17 L1615.40 484.52 L1616.70 482.91 L1618.00 483.96 L1619.30 485.20 L1620.60 483.65 L1621.90 484.13 L1623.20 486.42 L1624.50 483.69 L1625.80 483.61 L1627.10 482.68 L1628.40 483.04 L1629.70 485.23 L1631.00 483.56 L1632.30 482.49 L1633.60 482.74 L1634.90 483.68 L1636.20 484.43 L1637.50 482.90 L1638.80 484.34 L1640.10 483.13 L1641.40 483.95 L1642.70 484.10 L1644.00 484.16 L1645.30 483.12 L1646.60 483.36 L1647.90 484.00 L1649.20 482.22 L1650.50 483.63 L1651.80 483.94 L1653.10 484.43 L1654.40 483.36 L1655.70 483.20 L1657.00 483.49 L1658.30 482.62 L1659.60 483.10 L1660.90 483.66 L1662.20 483.51 L1663.50 482.22 L1664.80 482.88 L1666.10 481.15 L1667.40 483.89 L1668.70 482.60 L1670.00 483.30 L1671.30 482.01 L1672.60 482.93 L1673.90 483.40 L1675.20 483.87 L1676.50 481.64 L1677.80 483.68 L1679.10 482.70 L1680.40 482.10 L1681.70 483.23 L1683.00 482.48 L1684.30 482.44 L1685.60 482.03 L1686.90 482.86 L1688.20 482.65 L1689.50 482.42 L1690.80 481.66 L1692.10 482.04 L1693.40 482.84 L1694.70 483.61 L1696.00 482.37 L1697.30 483.66 L1698.60 482.32 L1699.90 481.29 L1701.20 482.83 L1702.50 481.33 L1703.80 482.54 L1705.10 483.12 L1706.40 481.82 L1707.70 481.98 L1709.00 484.28 L1710.30 482.20 L1711.60 482.19 L1712.90 482.62 L1714.20 481.78 L1715.50 481.75 L1716.80 482.14 L1718.10 479.57 L1719.40 483.00 L1720.70 480.70 L1722.00 480.65 L1723.30 482.08 L1724.60 481.58 L1725.90 480.38 L1727.20 481.67 L1728.50 480.40 L1729.80 480.76 L1731.10 479.99 L1732.40 480.56 L1733.70 481.64 L1735.00 481.35 L1736.30 481.48 L1737.60 482.00 L1738.90 481.08 L1740.20 480.48 L1741.50 480.79 L1742.80 482.51 L1744.10 481.00 L1745.40 481.22 L1746.70 480.80 L1748.00 481.08 L1749.30 481.21 L1750.60 480.77 L1751.90 480.60 L1753.20 479.99 L1754.50 479.89 L1755.80 481.01 L1757.10 481.29 L1758.40 481.41 L1759.70 480.57 L1761.00 479.73 L1762.30 481.04 L1763.60 480.99 L1764.90 478.99 L1766.20 481.09 L1767.50 480.86 L1768.80 481.83 L1770.10 479.20 L1771.40 479.03 L1772.70 480.92 L1774.00 478.48 L1775.30 479.44 L1776.60 479.07 L1777.90 479.11 L1779.20 478.24 L1780.50 479.77 L1781.80 480.87 L1783.10 480.34 L1784.40 480.32 L1785.70 479.54 L1787.00 481.19 L1788.30 480.30 L1789.60 480.76 L1790.90 478.30 L1792.20 480.04 L1793.50 478.62 L1794.80 479.99 L1796.10 479.82 L1797.40 478.55 L1798.70 479.73 L1800.00 480.62 L1801.30 479.97 L1802.60 480.03 L1803.90 478.64 L1805.20 478.78 L1806.50 478.35 L1807.80 479.46 L1809.10 480.40 L1810.40 479.67 L1811.70 479.23 L1813.00 478.18 L1814.30 479.56 L1815.60 478.90 L1816.90 477.37 L1818.20 477.49 L1819.50 478.68 L1820.80 478.15 L1822.10 480.31 L1823.40 478.85 L1824.70 477.88 L1826.00 478.29 L1827.30 479.96 L1828.60 477.79 L1829.90 479.12 L1831.20 478.76 L1832.50 479.47 L1833.80 478.64 L1835.10 477.84 L1836.40 478.42 L1837.70 477.96 L1839.00 478.46 L1840.30 477.61 L1841.60 478.78 L1842.90 477.27 L1844.20 477.41 L1845.50 476.57 L1846.80 476.79 L1848.10 476.48 L1849.40 476.27 L1850.70 476.29 L1851.80 475.35 L1852.00 475.16 L1852.15 475.96 L1852.50 475.26 L1852.85 475.00 L1853.20 475.63 L1853.30 475.45 L1853.55 474.01 L1853.90 474.79 L1854.25 475.11 L1854.60 475.00 L1854.60 474.50 L1854.95 475.13 L1855.30 474.15 L1855.65 474.21 L1855.90 474.23 L1856.00 474.14 L1856.35 474.26 L1856.70 474.17 L1857.05 473.66 L1857.20 474.04 L1857.40 473.30 L1857.75 473.27 L1858.10 473.65 L1858.45 473.00 L1858.50 473.24 L1858.80 472.66 L1859.15 472.50 L1859.50 472.34 L1859.80 472.22 L1859.85 472.06 L1860.20 471.92 L1860.55 471.84 L1860.90 471.71 L1861.10 471.31 L1861.25 471.32 L1861.60 471.10 L1861.95 470.41 L1862.30 470.02 L1862.40 470.57 L1862.65 470.28 L1863.00 469.72 L1863.35 469.44 L1863.70 468.87 L1863.70 468.79 L1864.05 468.72 L1864.40 468.05 L1864.75 468.02 L1865.00 467.49 L1865.10 467.51 L1865.45 467.30 L1865.80 466.82 L1866.15 466.05 L1866.30 466.01 L1866.50 465.45 L1866.85 464.98 L1867.20 464.54 L1867.55 464.06 L1867.60 463.76 L1867.90 463.35 L1868.25 462.65 L1868.60 461.84 L1868.90 461.33 L1868.95 461.38 L1869.30 460.48 L1869.65 459.73 L1870.00 458.91 L1870.20 458.29 L1870.35 458.05 L1870.70 457.13 L1871.05 456.15 L1871.40 455.09 L1871.50 454.67 L1871.75 453.87 L1872.10 452.70 L1872.45 451.48 L1872.80 450.20 L1872.80 450.30 L1873.15 448.96 L1873.50 447.43 L1873.85 446.00 L1874.10 444.78 L1874.20 444.37 L1874.55 442.68 L1874.90 440.92 L1875.25 439.16 L1875.40 438.35 L1875.60 437.24 L1875.95 435.24 L1876.30 433.16 L1876.65 431.05 L1876.70 430.73 L1877.00 428.86 L1877.35 426.54 L1877.70 424.27 L1878.00 422.26 L1878.05 421.94 L1878.40 419.57 L1878.75 417.17 L1879.10 414.80 L1879.30 413.45 L1879.45 412.53 L1879.80 410.37 L1880.15 408.28 L1880.50 406.18 L1880.60 405.73 L1880.85 404.50 L1881.20 402.92 L1881.55 401.69 L1881.90 400.66 L1881.90 400.62 L1882.25 399.94 L1882.60 399.16 L1882.95 399.12 L1883.20 399.53 L1883.30 399.91 L1883.65 400.45 L1884.00 401.71 L1884.35 403.28 L1884.50 404.00 L1884.70 405.13 L1885.05 407.20 L1885.40 409.57 L1885.75 412.10 L1885.80 412.50 L1886.10 414.72 L1886.45 417.44 L1886.80 420.14 L1887.10 422.48 L1887.15 422.91 L1887.50 425.58 L1887.85 428.25 L1888.20 430.80 L1888.40 432.27 L1888.55 433.33 L1888.90 435.62 L1889.25 437.98 L1889.60 440.10 L1889.70 440.71 L1889.95 442.15 L1890.30 444.13 L1890.65 445.91 L1891.00 447.67 L1891.00 447.66 L1891.35 449.35 L1891.70 450.93 L1892.05 452.39 L1892.30 453.36 L1892.40 453.69 L1892.75 454.92 L1893.10 456.26 L1893.45 457.39 L1893.60 457.87 L1893.80 458.55 L1894.15 459.46 L1894.50 460.41 L1894.85 461.14 L1894.90 461.49 L1895.20 462.17 L1895.55 462.91 L1895.90 463.76 L1896.20 464.24 L1896.25 464.39 L1896.60 465.31 L1896.95 465.83 L1897.30 466.46 L1897.50 466.77 L1897.65 467.00 L1898.00 467.49 L1898.35 468.27 L1898.70 468.45 L1898.80 468.70 L1899.05 468.89 L1899.40 469.31 L1899.75 469.40 L1900.10 469.87 L1900.10 470.42 L1900.45 470.80 L1900.80 470.83 L1901.15 471.25 L1901.40 471.60 L1901.50 471.39 L1901.85 472.24 L1902.20 471.97 L1902.55 472.32 L1902.70 471.99 L1902.90 473.07 L1903.25 473.01 L1903.60 473.63 L1903.95 473.24 L1904.00 473.60 L1904.30 473.73 L1904.65 473.99 L1905.00 474.70 L1905.30 474.94 L1905.35 474.72 L1905.70 474.42 L1906.05 474.98 L1906.40 475.30 L1906.60 475.17 L1906.75 475.25 L1907.10 475.39 L1907.45 475.10 L1907.80 475.63 L1907.90 476.13 L1908.15 475.36 L1908.50 475.87 L1908.85 476.28 L1909.20 475.60 L1909.20 476.06 L1909.55 475.60 L1909.90 476.12 L1910.25 475.92 L1910.50 476.20 L1910.60 476.39 L1910.95 476.59 L1911.30 476.72 L1911.65 475.89 L1911.80 477.64 L1913.10 477.18 L1914.40 477.09 L1915.70 477.58 L1917.00 478.33 L1918.30 477.81 L1919.60 478.35 L1920.90 478.49 L1922.20 479.30 L1923.50 478.61 L1924.80 479.56 L1926.10 479.63 L1927.40 479.40 L1928.70 480.54 L1930.00 479.74 L1931.30 478.92 L1932.60 480.15 L1933.90 480.10 L1935.20 480.05 L1936.50 480.34 L1937.80 482.18 L1939.10 480.48 L1940.40 480.74 L1941.70 480.19 L1943.00 481.60 L1944.30 480.46 L1945.60 479.84 L1946.90 479.51 L1948.20 481.12 L1949.50 481.37 L1950.80 479.27 L1952.10 480.09 L1953.40 481.39 L1954.70 481.79 L1956.00 479.61 L1957.30 480.50 L1958.60 481.71 L1959.90 480.43 L1961.20 480.53 L1962.50 480.46 L1963.80 479.74 L1965.10 481.08 L1966.40 481.35 L1967.70 479.69 L1969.00 481.18 L1970.30 482.20 L1971.60 481.32 L1972.90 482.07 L1974.20 480.59 L1975.50 482.53 L1976.80 480.38 L1978.10 483.08 L1979.40 480.73 L1980.70 480.47 L1982.00 480.30 L1983.30 480.79 L1984.60 480.72 L1985.90 480.52 L1987.20 480.89 L1988.50 481.92 L1989.80 482.15 L1991.10 480.90 L1992.40 482.53 L1993.70 480.21 L1995.00 480.18 L1996.30 480.07 L1997.60 481.88 L1998.90 479.63 L2000.20 479.79 L2001.50 482.59 L2002.80 483.04 L2004.10 482.65 L2005.40 479.70 L2006.70 481.26 L2008.00 482.11 L2009.30 481.34 L2010.60 479.56 L2011.90 480.88 L2013.20 479.47 L2014.50 479.95 L2015.80 483.43 L2017.10 481.91 L2018.40 479.70 L2019.70 479.66 L2021.00 481.66 L2022.30 480.56 L2023.60 481.77 L2024.90 480.51 L2026.20 480.96 L2027.50 481.40 L2028.80 480.09 L2030.10 479.19 L2031.40 479.91 L2032.70 480.41 L2034.00 480.90 L2035.30 481.04 L2036.60 481.02 L2037.90 481.59 L2039.20 480.16 L2040.50 482.46 L2041.80 483.06 L2043.10 481.40 L2044.40 481.21 L2045.70 482.26 L2047.00 481.64 L2048.30 481.17 L2049.60 480.80 L2050.90 480.22 L2052.20 479.77 L2053.50 481.60 L2054.80 482.10 L2056.10 479.85 L2057.40 480.82 L2058.70 481.09 L2060.00 480.44 L2061.30 480.09 L2062.60 480.44 L2063.90 478.86 L2065.20 480.74 L2066.50 480.50 L2067.80 482.88 L2069.10 481.69 L2070.40 480.40 L2071.70 480.72 L2073.00 482.42 L2074.30 482.29 L2075.60 480.87 L2076.90 480.54 L2078.20 479.22 L2079.50 480.31 L2080.80 480.45 L2082.10 479.88 L2083.40 482.30 L2084.70 478.72 L2086.00 480.42 L2087.30 480.94 L2088.60 480.95 L2089.90 482.17 L2091.20 479.11 L2092.50 479.73 L2093.80 480.55 L2095.10 480.57 L2096.40 480.04 L2097.70 479.65 L2099.00 481.44 L2100.30 479.33 L2101.60 479.78 L2102.90 481.75 L2104.20 482.02 L2105.50 481.15 L2106.80 479.43 L2108.10 479.42 L2109.40 479.36 L2110.70 479.11 L2112.00 479.80 L2113.30 481.43 L2114.60 480.39 L2115.90 479.41 L2117.20 479.37 L2118.50 478.96 L2119.80 481.28 L2121.10 478.10 L2122.40 480.32 L2123.70 478.63 L2125.00 478.98 L2126.30 478.54 L2127.60 480.92 L2128.90 479.88 L2130.20 482.62 L2131.50 478.90 L2132.80 478.83 L2134.10 480.45 L2135.40 480.41 L2136.70 479.56 L2138.00 477.84 L2139.30 481.21 L2140.60 480.33 L2141.90 480.14" stroke="#0000ff" stroke-width="6.0"/>
</g>
<g stroke="#000" stroke-width="5.0" fill="none" stroke-linecap="butt">
<line x1="318.2" y1="100.6" x2="2144.6" y2="100.6"/>
<line x1="346.7" y1="1547.3" x2="2144.6" y2="1547.3"/>
<line x1="349.2" y1="98.1" x2="349.2" y2="1577.3"/>
<line x1="2142.1" y1="98.1" x2="2142.1" y2="1577.3"/>
<line x1="318.2" y1="1433.5" x2="349.2" y2="1433.5"/>
<line x1="318.2" y1="1243.1" x2="349.2" y2="1243.1"/>
<line x1="318.2" y1="1052.7" x2="349.2" y2="1052.7"/>
<line x1="318.2" y1="862.3" x2="349.2" y2="862.3"/>
<line x1="318.2" y1="671.9" x2="349.2" y2="671.9"/>
<line x1="318.2" y1="481.5" x2="349.2" y2="481.5"/>
<line x1="318.2" y1="291.1" x2="349.2" y2="291.1"/>
<line x1="332.7" y1="1528.7" x2="349.2" y2="1528.7"/>
<line x1="332.7" y1="1338.3" x2="349.2" y2="1338.3"/>
<line x1="332.7" y1="1147.9" x2="349.2" y2="1147.9"/>
<line x1="332.7" y1="957.5" x2="349.2" y2="957.5"/>
<line x1="332.7" y1="767.1" x2="349.2" y2="767.1"/>
<line x1="332.7" y1="576.7" x2="349.2" y2="576.7"/>
<line x1="332.7" y1="386.3" x2="349.2" y2="386.3"/>
<line x1="332.7" y1="195.9" x2="349.2" y2="195.9"/>
<line x1="605.3" y1="1547.3" x2="605.3" y2="1577.3"/>
<line x1="861.5" y1="1547.3" x2="861.5" y2="1577.3"/>
<line x1="1117.6" y1="1547.3" x2="1117.6" y2="1577.3"/>
<line x1="1373.7" y1="1547.3" x2="1373.7" y2="1577.3"/>
<line x1="1629.8" y1="1547.3" x2="1629.8" y2="1577.3"/>
<line x1="1886.0" y1="1547.3" x2="1886.0" y2="1577.3"/>
<line x1="477.3" y1="1547.3" x2="477.3" y2="1563.8"/>
<line x1="733.4" y1="1547.3" x2="733.4" y2="1563.8"/>
<line x1="989.5" y1="1547.3" x2="989.5" y2="1563.8"/>
<line x1="1245.7" y1="1547.3" x2="1245.7" y2="1563.8"/>
<line x1="1501.8" y1="1547.3" x2="1501.8" y2="1563.8"/>
<line x1="1757.9" y1="1547.3" x2="1757.9" y2="1563.8"/>
<line x1="2014.0" y1="1547.3" x2="2014.0" y2="1563.8"/>
</g>
<g font-family='"Liberation Sans", sans-serif' fill="#242424" style="font-kerning:none;font-variant-ligatures:none" text-rendering="geometricPrecision">
<text x="299" y="1451.3" font-size="61" text-anchor="end">0</text>
<text x="299" y="1260.9" font-size="61" text-anchor="end">1000</text>
<text x="299" y="1070.5" font-size="61" text-anchor="end">2000</text>
<text x="299" y="880.1" font-size="61" text-anchor="end">3000</text>
<text x="299" y="689.7" font-size="61" text-anchor="end">4000</text>
<text x="299" y="499.3" font-size="61" text-anchor="end">5000</text>
<text x="299" y="308.9" font-size="61" text-anchor="end">6000</text>
<text x="299" y="118.5" font-size="61" text-anchor="end">7000</text>
<text x="348.7" y="1642.5" font-size="61" text-anchor="middle">1</text>
<text x="604.8" y="1642.5" font-size="61" text-anchor="middle">2</text>
<text x="861.0" y="1642.5" font-size="61" text-anchor="middle">3</text>
<text x="1117.1" y="1642.5" font-size="61" text-anchor="middle">4</text>
<text x="1373.2" y="1642.5" font-size="61" text-anchor="middle">5</text>
<text x="1629.3" y="1642.5" font-size="61" text-anchor="middle">6</text>
<text x="1885.5" y="1642.5" font-size="61" text-anchor="middle">7</text>
<text x="2141.6" y="1642.5" font-size="61" text-anchor="middle">8</text>
<text transform="translate(139.8 1073.3) rotate(-90)" font-size="89" fill="#161616">Intensity [a.u.]</text>
<text x="1070.5" y="1731.5" font-size="89.3" fill="#161616">2Theta [°]</text>
<text x="350.5" y="578.3" font-size="68.6">Fe<tspan font-size="39.3" dy="24.5" fill="#3c3c3c">67</tspan><tspan dy="-24.5">Co</tspan><tspan font-size="39.3" dy="24.5" fill="#3c3c3c">20</tspan><tspan dy="-24.5">B</tspan><tspan font-size="39.3" dy="24.5" fill="#3c3c3c">13</tspan><tspan dy="-24.5"> 485°C/2s</tspan></text>
<text x="355.5" y="1134" font-size="68.6">Fe<tspan font-size="39.3" dy="24.5" fill="#3c3c3c">67</tspan><tspan dy="-24.5">Co</tspan><tspan font-size="39.3" dy="24.5" fill="#3c3c3c">20</tspan><tspan dy="-24.5">B</tspan><tspan font-size="39.3" dy="24.5" fill="#3c3c3c">13</tspan><tspan dy="-24.5"> 410°C/30s</tspan></text>
<text x="357" y="1516.8" font-size="68.6">Fe<tspan font-size="39.3" dy="24.5" fill="#3c3c3c">67</tspan><tspan dy="-24.5">Co</tspan><tspan font-size="39.3" dy="24.5" fill="#3c3c3c">20</tspan><tspan dy="-24.5">B</tspan><tspan font-size="39.3" dy="24.5" fill="#3c3c3c">13</tspan><tspan dy="-24.5"> 370°C/60s</tspan></text>
<text transform="translate(1062.7 453.4) rotate(-90)" font-size="75" fill="#161616">110<tspan font-size="45.4" dy="25" dx="1.5" fill="#333">α-(Fe,Co)</tspan></text>
<text transform="translate(1508.7 468.5) rotate(-90)" font-size="75" fill="#161616">200<tspan font-size="45.4" dy="25" dx="2" fill="#333">α-(Fe,Co)</tspan></text>
<text transform="translate(1841.5 461) rotate(-90)" font-size="75" fill="#161616">211<tspan font-size="45.4" dy="25" dx="1" fill="#333">α-(Fe,Co)</tspan></text>
</g>
</g>
</svg>
</body>
</html>
